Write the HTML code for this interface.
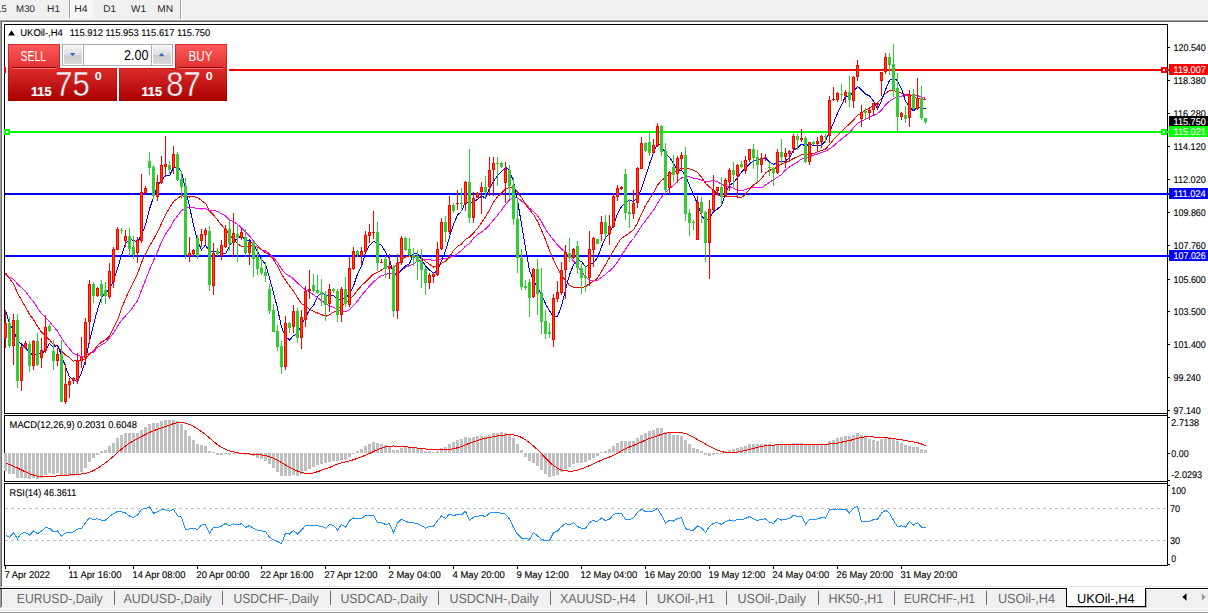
<!DOCTYPE html><html><head><meta charset="utf-8"><title>UKOil-,H4</title>
<style>html,body{margin:0;padding:0;background:#fff;overflow:hidden}body{width:1208px;height:614px;position:relative;font-family:"Liberation Sans",sans-serif}svg{position:absolute;left:0;top:0;display:block}text{font-family:"Liberation Sans",sans-serif}.t{stroke-width:0.12px;stroke-linejoin:round;text-rendering:geometricPrecision}.g{text-rendering:geometricPrecision}</style></head><body>
<svg width="1208" height="614" viewBox="0 0 1208 614">
<defs><linearGradient id="gr1" x1="0" y1="0" x2="0" y2="1"><stop offset="0" stop-color="#ff5a5a"/><stop offset="1" stop-color="#e03030"/></linearGradient><linearGradient id="gr2" x1="0" y1="0" x2="0" y2="1"><stop offset="0" stop-color="#dc2c2c"/><stop offset="1" stop-color="#aa0000"/></linearGradient><linearGradient id="gr2u" gradientUnits="userSpaceOnUse" x1="0" y1="68" x2="0" y2="101"><stop offset="0" stop-color="#dc2c2c"/><stop offset="1" stop-color="#aa0000"/></linearGradient><linearGradient id="gb" x1="0" y1="0" x2="0" y2="1"><stop offset="0" stop-color="#f4f4f4"/><stop offset="0.5" stop-color="#dcdcdc"/><stop offset="0.5" stop-color="#cfcfcf"/><stop offset="1" stop-color="#d8d8d8"/></linearGradient><pattern id="chk" width="2" height="2" patternUnits="userSpaceOnUse"><rect width="2" height="2" fill="#f0f0f0"/><rect width="1" height="1" fill="#fff"/><rect x="1" y="1" width="1" height="1" fill="#fff"/></pattern></defs>
<rect x="0" y="0" width="1208" height="19" fill="#f0f0f0" />
<rect x="0" y="19" width="1208" height="1" fill="#f9f9f9" />
<rect x="0" y="20" width="1208" height="1" fill="#a0a0a0" />
<rect x="1" y="21" width="1208" height="1" fill="#696969" />
<rect x="0" y="20" width="1" height="566" fill="#a0a0a0" />
<rect x="1" y="21" width="1" height="565" fill="#696969" />
<rect x="70" y="0" width="24" height="18" fill="url(#chk)" />
<rect x="69" y="0" width="1" height="18" fill="#a0a0a0" />
<rect x="180" y="0" width="1" height="19" fill="#a0a0a0" />
<rect x="181" y="0" width="1" height="19" fill="#fff" />
<text x="-3.8" y="12" font-size="9.8" fill="#2b2b2b" textLength="10.5" lengthAdjust="spacingAndGlyphs" class="g">15</text>
<text x="16.1" y="12" font-size="9.8" fill="#2b2b2b" textLength="18.8" lengthAdjust="spacingAndGlyphs" class="g">M30</text>
<text x="47.1" y="12" font-size="9.8" fill="#2b2b2b" textLength="13" lengthAdjust="spacingAndGlyphs" class="g">H1</text>
<text x="74.2" y="12" font-size="9.8" fill="#2b2b2b" textLength="13.4" lengthAdjust="spacingAndGlyphs" class="g">H4</text>
<text x="103.2" y="12" font-size="9.8" fill="#2b2b2b" textLength="12.8" lengthAdjust="spacingAndGlyphs" class="g">D1</text>
<text x="131.1" y="12" font-size="9.8" fill="#2b2b2b" textLength="15" lengthAdjust="spacingAndGlyphs" class="g">W1</text>
<text x="157.3" y="12" font-size="9.8" fill="#2b2b2b" textLength="15.8" lengthAdjust="spacingAndGlyphs" class="g">MN</text>
<rect x="4" y="24" width="1164" height="1" fill="#000" />
<rect x="4" y="413" width="1164" height="1" fill="#000" />
<rect x="4" y="24" width="1" height="390" fill="#000" />
<rect x="4" y="415" width="1164" height="1" fill="#000" />
<rect x="4" y="481" width="1164" height="1" fill="#000" />
<rect x="4" y="415" width="1" height="67" fill="#000" />
<rect x="4" y="483" width="1164" height="1" fill="#000" />
<rect x="4" y="565" width="1164" height="1" fill="#000" />
<rect x="4" y="483" width="1" height="83" fill="#000" />
<rect x="1167" y="24" width="1" height="542" fill="#000" />
<rect x="5" y="69" width="1164" height="2" fill="#ff0000" />
<rect x="4" y="67" width="6" height="6" fill="#ff0000" />
<rect x="6" y="69" width="2" height="2" fill="#fff" />
<rect x="1161" y="67" width="6" height="6" fill="#ff0000" />
<rect x="1163" y="69" width="2" height="2" fill="#fff" />
<rect x="5" y="131" width="1164" height="2" fill="#00ff00" />
<rect x="4" y="129" width="6" height="6" fill="#00ff00" />
<rect x="6" y="131" width="2" height="2" fill="#fff" />
<rect x="1161" y="129" width="6" height="6" fill="#00ff00" />
<rect x="1163" y="131" width="2" height="2" fill="#fff" />
<rect x="5" y="193" width="1164" height="2" fill="#0000ff" />
<rect x="5" y="255" width="1164" height="2" fill="#0000ff" />
<g id="chart">
<polyline points="5.5,274.4 9.5,277.4 13.5,279.2 17.5,284.1 21.5,287.7 25.5,291.5 29.5,297.0 33.5,301.7 37.5,308.0 41.5,313.5 45.5,317.7 49.5,321.6 53.5,326.6 57.5,331.0 61.5,338.0 65.5,343.9 69.5,348.9 73.5,353.5 77.5,355.2 81.5,356.4 85.5,356.4 89.5,353.3 93.5,352.1 97.5,347.4 101.5,344.9 105.5,342.5 109.5,337.8 113.5,333.1 117.5,326.3 121.5,320.4 125.5,315.8 129.5,311.7 133.5,306.4 137.5,300.7 141.5,290.2 145.5,280.4 149.5,269.7 153.5,260.6 157.5,251.7 161.5,242.0 165.5,234.1 169.5,228.4 173.5,221.3 177.5,215.9 181.5,210.5 185.5,208.4 189.5,207.5 193.5,207.6 197.5,208.9 201.5,209.0 205.5,208.8 209.5,210.6 213.5,210.5 217.5,211.2 221.5,213.9 225.5,215.9 229.5,219.8 233.5,221.6 237.5,224.4 241.5,227.8 245.5,232.2 249.5,235.8 253.5,241.0 257.5,245.5 261.5,249.8 265.5,250.9 269.5,253.8 273.5,257.9 277.5,262.4 281.5,269.1 285.5,273.7 289.5,275.9 293.5,278.8 297.5,283.0 301.5,286.6 305.5,289.7 309.5,291.9 313.5,294.8 317.5,297.5 321.5,300.7 325.5,303.3 329.5,305.7 333.5,307.3 337.5,309.7 341.5,310.5 345.5,311.9 349.5,309.7 353.5,305.6 357.5,301.1 361.5,295.3 365.5,290.9 369.5,286.0 373.5,282.1 377.5,278.4 381.5,275.6 385.5,274.5 389.5,273.3 393.5,274.4 397.5,272.9 401.5,270.0 405.5,267.2 409.5,265.6 413.5,263.9 417.5,261.2 421.5,260.2 425.5,259.2 429.5,259.5 433.5,260.7 437.5,260.4 441.5,258.9 445.5,258.8 449.5,257.4 453.5,256.4 457.5,253.4 461.5,250.5 465.5,246.1 469.5,243.7 473.5,238.1 477.5,234.6 481.5,232.0 485.5,229.1 489.5,224.9 493.5,220.1 497.5,215.2 501.5,210.1 505.5,204.4 509.5,200.0 513.5,197.2 517.5,197.7 521.5,200.9 525.5,203.7 529.5,208.3 533.5,211.2 537.5,215.8 541.5,221.6 545.5,229.2 549.5,235.0 553.5,240.0 557.5,245.0 561.5,249.1 565.5,252.2 569.5,256.6 573.5,260.9 577.5,266.1 581.5,271.6 585.5,277.0 589.5,280.2 593.5,281.1 597.5,280.4 601.5,277.2 605.5,274.5 609.5,270.9 613.5,267.3 617.5,262.0 621.5,255.2 625.5,249.2 629.5,243.2 633.5,238.5 637.5,232.3 641.5,225.9 645.5,220.9 649.5,215.6 653.5,210.4 657.5,203.2 661.5,197.0 665.5,192.5 669.5,188.6 673.5,185.5 677.5,181.3 681.5,177.9 685.5,176.9 689.5,176.7 693.5,178.1 697.5,178.8 701.5,180.1 705.5,181.5 709.5,181.3 713.5,180.6 717.5,181.6 721.5,184.3 725.5,185.7 729.5,186.6 733.5,188.1 737.5,190.1 741.5,190.9 745.5,189.4 749.5,188.3 753.5,187.4 757.5,187.8 761.5,187.9 765.5,185.1 769.5,182.4 773.5,179.8 777.5,177.3 781.5,174.5 785.5,170.0 789.5,167.1 793.5,164.4 797.5,162.0 801.5,159.1 805.5,158.2 809.5,156.8 813.5,155.3 817.5,154.0 821.5,152.5 825.5,151.3 829.5,148.9 833.5,145.9 837.5,142.3 841.5,139.1 845.5,135.9 849.5,132.5 853.5,127.7 857.5,123.4 861.5,121.2 865.5,119.1 869.5,117.1 873.5,115.5 877.5,113.6 881.5,110.3 885.5,105.0 889.5,101.2 893.5,98.5 897.5,97.2 901.5,96.1 905.5,95.2 909.5,94.9 913.5,95.4 917.5,95.7 921.5,96.9 925.5,98.4" fill="none" stroke="#ff00ff" stroke-width="1" shape-rendering="crispEdges"/>
<polyline points="5.5,272.7 9.5,278.7 13.5,283.6 17.5,293.0 21.5,300.2 25.5,306.9 29.5,314.4 33.5,319.6 37.5,326.3 41.5,332.1 45.5,336.2 49.5,339.7 53.5,344.6 57.5,346.4 61.5,350.9 65.5,355.0 69.5,357.4 73.5,361.2 77.5,359.9 81.5,360.6 85.5,359.2 89.5,353.8 93.5,350.7 97.5,345.6 101.5,342.0 105.5,339.9 109.5,335.9 113.5,328.4 117.5,320.1 121.5,308.7 125.5,298.8 129.5,290.0 133.5,281.8 137.5,273.7 141.5,262.7 145.5,253.7 149.5,246.0 153.5,239.3 157.5,232.2 161.5,223.5 165.5,214.7 169.5,208.0 173.5,201.6 177.5,198.4 181.5,195.4 185.5,196.7 189.5,197.0 193.5,196.7 197.5,197.7 201.5,200.5 205.5,203.3 209.5,211.1 213.5,214.9 217.5,219.7 221.5,225.1 225.5,229.5 229.5,234.4 233.5,239.7 237.5,243.6 241.5,246.6 245.5,246.4 249.5,245.7 253.5,246.2 257.5,247.1 261.5,249.7 265.5,252.8 269.5,254.6 273.5,259.8 277.5,266.0 281.5,274.1 285.5,280.4 289.5,286.0 293.5,291.2 297.5,297.8 301.5,303.6 305.5,306.1 309.5,309.3 313.5,311.4 317.5,313.0 321.5,314.5 325.5,316.4 329.5,314.9 333.5,312.2 337.5,310.1 341.5,304.9 345.5,303.6 349.5,299.6 353.5,295.6 357.5,290.1 361.5,285.7 365.5,281.9 369.5,278.2 373.5,274.2 377.5,272.3 381.5,270.0 385.5,267.6 389.5,266.1 393.5,267.4 397.5,263.9 401.5,260.5 405.5,256.9 409.5,256.0 413.5,256.5 417.5,256.9 421.5,258.2 425.5,261.4 429.5,264.3 433.5,267.1 437.5,266.2 441.5,263.5 445.5,261.0 449.5,256.9 453.5,250.3 457.5,246.2 461.5,244.0 465.5,239.5 469.5,237.0 473.5,233.0 477.5,228.4 481.5,222.9 485.5,216.8 489.5,209.8 493.5,202.4 497.5,196.7 501.5,193.1 505.5,188.9 509.5,187.6 513.5,188.2 517.5,191.9 521.5,197.4 525.5,204.4 529.5,209.7 533.5,214.5 537.5,221.2 541.5,230.2 545.5,239.6 549.5,250.5 553.5,259.6 557.5,268.1 561.5,275.0 565.5,280.5 569.5,285.3 573.5,287.3 577.5,288.0 581.5,287.4 585.5,286.7 589.5,283.5 593.5,281.4 597.5,278.1 601.5,271.4 605.5,264.8 609.5,257.6 613.5,250.8 617.5,243.8 621.5,238.3 625.5,235.7 629.5,232.7 633.5,229.7 637.5,223.0 641.5,214.0 645.5,205.6 649.5,199.1 653.5,192.9 657.5,185.1 661.5,180.4 665.5,177.4 669.5,173.8 673.5,172.4 677.5,170.4 681.5,168.3 685.5,168.3 689.5,168.9 693.5,170.2 697.5,172.5 701.5,177.2 705.5,183.3 709.5,187.0 713.5,190.0 717.5,194.2 721.5,197.1 725.5,196.5 729.5,196.4 733.5,196.4 737.5,196.9 741.5,197.7 745.5,194.1 749.5,189.2 753.5,184.9 757.5,182.4 761.5,178.8 765.5,173.0 769.5,170.3 773.5,169.2 777.5,166.8 781.5,164.1 785.5,162.3 789.5,161.1 793.5,158.4 797.5,156.7 801.5,154.8 805.5,155.0 809.5,154.5 813.5,153.5 817.5,151.9 821.5,150.5 825.5,149.1 829.5,144.6 833.5,139.7 837.5,135.7 841.5,131.6 845.5,127.5 849.5,124.1 853.5,120.2 857.5,115.2 861.5,113.5 865.5,110.2 869.5,108.1 873.5,105.4 877.5,102.8 881.5,98.6 885.5,93.2 889.5,90.9 893.5,90.3 897.5,91.9 901.5,93.1 905.5,94.9 909.5,94.4 913.5,96.6 917.5,98.8 921.5,99.2 925.5,99.8" fill="none" stroke="#ff0000" stroke-width="1" shape-rendering="crispEdges"/>
<polyline points="5.5,310.4 9.5,323.6 13.5,330.4 17.5,341.2 21.5,343.8 25.5,347.9 29.5,351.9 33.5,356.1 37.5,353.0 41.5,353.6 45.5,350.4 49.5,343.4 53.5,347.3 57.5,345.1 61.5,355.4 65.5,366.8 69.5,376.8 73.5,380.2 77.5,381.7 81.5,372.8 85.5,360.4 89.5,341.0 93.5,324.6 97.5,310.0 101.5,297.7 105.5,292.4 109.5,289.7 113.5,280.4 117.5,268.5 121.5,255.6 125.5,243.6 129.5,239.2 133.5,240.4 137.5,242.5 141.5,234.7 145.5,225.2 149.5,209.0 153.5,197.2 157.5,185.7 161.5,180.2 165.5,175.3 169.5,175.7 173.5,167.3 177.5,166.9 181.5,171.4 185.5,189.6 189.5,206.3 193.5,225.4 197.5,240.6 201.5,249.9 205.5,245.0 209.5,251.4 213.5,252.0 217.5,251.7 221.5,254.0 225.5,253.9 229.5,245.7 233.5,241.7 237.5,238.4 241.5,235.7 245.5,240.4 249.5,239.9 253.5,245.1 257.5,251.2 261.5,259.4 265.5,264.1 269.5,278.1 273.5,292.8 277.5,308.3 281.5,327.2 285.5,336.6 289.5,340.0 293.5,335.7 297.5,334.0 301.5,324.1 305.5,317.6 309.5,309.7 313.5,305.7 317.5,296.6 321.5,292.2 325.5,295.1 329.5,295.1 333.5,295.2 337.5,299.8 341.5,298.5 345.5,298.2 349.5,294.1 353.5,286.0 357.5,274.0 361.5,266.4 365.5,252.5 369.5,245.3 373.5,241.5 377.5,243.0 381.5,245.2 385.5,252.1 389.5,258.9 393.5,274.8 397.5,274.8 401.5,270.0 405.5,266.0 409.5,263.9 413.5,253.2 417.5,253.0 421.5,259.4 425.5,266.1 429.5,270.0 433.5,273.3 437.5,270.7 441.5,261.2 445.5,250.9 449.5,237.0 453.5,224.3 457.5,215.0 461.5,211.5 465.5,201.5 469.5,204.1 473.5,201.5 477.5,199.5 481.5,196.1 485.5,198.0 489.5,188.3 493.5,181.4 497.5,175.6 501.5,171.7 505.5,167.3 509.5,170.4 513.5,181.6 517.5,200.5 521.5,224.3 525.5,248.0 529.5,270.4 533.5,280.3 537.5,287.5 541.5,294.5 545.5,303.7 549.5,310.9 553.5,316.8 557.5,316.4 561.5,306.1 565.5,289.8 569.5,274.8 573.5,264.8 577.5,260.0 581.5,261.5 585.5,266.8 589.5,264.9 593.5,262.7 597.5,257.7 601.5,246.6 605.5,237.8 609.5,233.2 613.5,224.8 617.5,213.7 621.5,206.7 625.5,202.5 629.5,200.1 633.5,201.6 637.5,197.5 641.5,188.7 645.5,176.3 649.5,164.1 653.5,152.4 657.5,143.9 661.5,145.8 665.5,153.4 669.5,157.2 673.5,163.4 677.5,169.8 681.5,170.4 685.5,175.1 689.5,185.4 693.5,194.9 697.5,203.8 701.5,215.4 705.5,221.2 709.5,218.5 713.5,211.8 717.5,208.9 721.5,205.7 725.5,193.2 729.5,185.4 733.5,182.4 737.5,178.0 741.5,172.0 745.5,168.0 749.5,163.9 753.5,160.5 757.5,160.3 761.5,158.6 765.5,157.9 769.5,161.8 773.5,164.6 777.5,162.0 781.5,161.7 785.5,161.0 789.5,157.6 793.5,150.2 797.5,147.8 801.5,144.1 805.5,145.9 809.5,144.1 813.5,145.8 817.5,146.0 821.5,145.6 825.5,140.5 829.5,132.0 833.5,123.0 837.5,113.3 841.5,105.1 845.5,96.1 849.5,96.2 853.5,91.9 857.5,86.4 861.5,89.8 865.5,94.0 869.5,95.9 873.5,101.2 877.5,108.7 881.5,100.7 885.5,89.6 889.5,80.5 893.5,77.8 897.5,80.6 901.5,88.7 905.5,101.1 909.5,106.9 913.5,110.8 917.5,107.1 921.5,108.2 925.5,108.8" fill="none" stroke="#0000ff" stroke-width="1" shape-rendering="crispEdges"/>
<rect x="5" y="310" width="1" height="38" fill="#ff0000"/>
<rect x="4" y="323" width="3" height="15" fill="#ff0000"/>
<rect x="5" y="324" width="1" height="13" fill="#ff4a00"/>
<rect x="9" y="317" width="1" height="31" fill="#32cd32"/>
<rect x="8" y="323" width="3" height="23" fill="#32cd32"/>
<rect x="13" y="314" width="1" height="51" fill="#ff0000"/>
<rect x="12" y="320" width="3" height="26" fill="#ff0000"/>
<rect x="13" y="321" width="1" height="24" fill="#ff4a00"/>
<rect x="17" y="314" width="1" height="74" fill="#32cd32"/>
<rect x="16" y="320" width="3" height="61" fill="#32cd32"/>
<rect x="21" y="345" width="1" height="46" fill="#ff0000"/>
<rect x="20" y="347" width="3" height="34" fill="#ff0000"/>
<rect x="21" y="348" width="1" height="32" fill="#ff4a00"/>
<rect x="25" y="341" width="1" height="8" fill="#ff0000"/>
<rect x="24" y="343" width="3" height="5" fill="#ff0000"/>
<rect x="25" y="344" width="1" height="3" fill="#ff4a00"/>
<rect x="29" y="341" width="1" height="31" fill="#32cd32"/>
<rect x="28" y="344" width="3" height="22" fill="#32cd32"/>
<rect x="33" y="340" width="1" height="30" fill="#ff0000"/>
<rect x="32" y="341" width="3" height="25" fill="#ff0000"/>
<rect x="33" y="342" width="1" height="23" fill="#ff4a00"/>
<rect x="37" y="333" width="1" height="33" fill="#32cd32"/>
<rect x="36" y="341" width="3" height="24" fill="#32cd32"/>
<rect x="41" y="338" width="1" height="30" fill="#ff0000"/>
<rect x="40" y="350" width="3" height="8" fill="#ff0000"/>
<rect x="41" y="351" width="1" height="6" fill="#ff4a00"/>
<rect x="45" y="315" width="1" height="38" fill="#ff0000"/>
<rect x="44" y="327" width="3" height="24" fill="#ff0000"/>
<rect x="45" y="328" width="1" height="22" fill="#ff4a00"/>
<rect x="49" y="324" width="1" height="8" fill="#32cd32"/>
<rect x="48" y="326" width="3" height="5" fill="#32cd32"/>
<rect x="53" y="340" width="1" height="30" fill="#32cd32"/>
<rect x="52" y="351" width="3" height="10" fill="#32cd32"/>
<rect x="57" y="348" width="1" height="18" fill="#ff0000"/>
<rect x="56" y="354" width="3" height="7" fill="#ff0000"/>
<rect x="57" y="355" width="1" height="5" fill="#ff4a00"/>
<rect x="61" y="340" width="1" height="62" fill="#32cd32"/>
<rect x="60" y="354" width="3" height="48" fill="#32cd32"/>
<rect x="65" y="364" width="1" height="40" fill="#ff0000"/>
<rect x="64" y="384" width="3" height="18" fill="#ff0000"/>
<rect x="65" y="385" width="1" height="16" fill="#ff4a00"/>
<rect x="69" y="378" width="1" height="20" fill="#ff0000"/>
<rect x="68" y="381" width="3" height="4" fill="#ff0000"/>
<rect x="69" y="382" width="1" height="2" fill="#ff4a00"/>
<rect x="73" y="377" width="1" height="7" fill="#ff0000"/>
<rect x="72" y="378" width="3" height="3" fill="#ff0000"/>
<rect x="73" y="379" width="1" height="1" fill="#ff4a00"/>
<rect x="77" y="353" width="1" height="31" fill="#ff0000"/>
<rect x="76" y="361" width="3" height="19" fill="#ff0000"/>
<rect x="77" y="362" width="1" height="17" fill="#ff4a00"/>
<rect x="81" y="337" width="1" height="31" fill="#ff0000"/>
<rect x="80" y="357" width="3" height="4" fill="#ff0000"/>
<rect x="81" y="358" width="1" height="2" fill="#ff4a00"/>
<rect x="85" y="318" width="1" height="47" fill="#ff0000"/>
<rect x="84" y="322" width="3" height="36" fill="#ff0000"/>
<rect x="85" y="323" width="1" height="34" fill="#ff4a00"/>
<rect x="89" y="280" width="1" height="64" fill="#ff0000"/>
<rect x="88" y="284" width="3" height="38" fill="#ff0000"/>
<rect x="89" y="285" width="1" height="36" fill="#ff4a00"/>
<rect x="93" y="282" width="1" height="21" fill="#32cd32"/>
<rect x="92" y="284" width="3" height="12" fill="#32cd32"/>
<rect x="97" y="287" width="1" height="10" fill="#ff0000"/>
<rect x="96" y="288" width="3" height="8" fill="#ff0000"/>
<rect x="97" y="289" width="1" height="6" fill="#ff4a00"/>
<rect x="101" y="280" width="1" height="23" fill="#32cd32"/>
<rect x="100" y="284" width="3" height="12" fill="#32cd32"/>
<rect x="105" y="282" width="1" height="22" fill="#32cd32"/>
<rect x="104" y="290" width="3" height="6" fill="#32cd32"/>
<rect x="109" y="263" width="1" height="36" fill="#ff0000"/>
<rect x="108" y="271" width="3" height="26" fill="#ff0000"/>
<rect x="109" y="272" width="1" height="24" fill="#ff4a00"/>
<rect x="113" y="247" width="1" height="41" fill="#ff0000"/>
<rect x="112" y="249" width="3" height="33" fill="#ff0000"/>
<rect x="113" y="250" width="1" height="31" fill="#ff4a00"/>
<rect x="117" y="227" width="1" height="23" fill="#ff0000"/>
<rect x="116" y="229" width="3" height="21" fill="#ff0000"/>
<rect x="117" y="230" width="1" height="19" fill="#ff4a00"/>
<rect x="121" y="228" width="1" height="6" fill="#32cd32"/>
<rect x="120" y="230" width="3" height="1" fill="#32cd32"/>
<rect x="125" y="230" width="1" height="17" fill="#ff0000"/>
<rect x="124" y="236" width="3" height="5" fill="#ff0000"/>
<rect x="125" y="237" width="1" height="3" fill="#ff4a00"/>
<rect x="129" y="228" width="1" height="28" fill="#32cd32"/>
<rect x="128" y="236" width="3" height="13" fill="#32cd32"/>
<rect x="133" y="236" width="1" height="23" fill="#32cd32"/>
<rect x="132" y="247" width="3" height="8" fill="#32cd32"/>
<rect x="137" y="237" width="1" height="26" fill="#ff0000"/>
<rect x="136" y="240" width="3" height="13" fill="#ff0000"/>
<rect x="137" y="241" width="1" height="11" fill="#ff4a00"/>
<rect x="141" y="174" width="1" height="69" fill="#ff0000"/>
<rect x="140" y="192" width="3" height="49" fill="#ff0000"/>
<rect x="141" y="193" width="1" height="47" fill="#ff4a00"/>
<rect x="145" y="186" width="1" height="8" fill="#ff0000"/>
<rect x="144" y="188" width="3" height="5" fill="#ff0000"/>
<rect x="145" y="189" width="1" height="3" fill="#ff4a00"/>
<rect x="149" y="152" width="1" height="23" fill="#32cd32"/>
<rect x="148" y="161" width="3" height="7" fill="#32cd32"/>
<rect x="153" y="165" width="1" height="34" fill="#32cd32"/>
<rect x="152" y="167" width="3" height="29" fill="#32cd32"/>
<rect x="157" y="175" width="1" height="26" fill="#ff0000"/>
<rect x="156" y="182" width="3" height="15" fill="#ff0000"/>
<rect x="157" y="183" width="1" height="13" fill="#ff4a00"/>
<rect x="161" y="156" width="1" height="28" fill="#ff0000"/>
<rect x="160" y="165" width="3" height="18" fill="#ff0000"/>
<rect x="161" y="166" width="1" height="16" fill="#ff4a00"/>
<rect x="165" y="136" width="1" height="41" fill="#ff0000"/>
<rect x="164" y="164" width="3" height="3" fill="#ff0000"/>
<rect x="165" y="165" width="1" height="1" fill="#ff4a00"/>
<rect x="169" y="161" width="1" height="13" fill="#32cd32"/>
<rect x="168" y="165" width="3" height="5" fill="#32cd32"/>
<rect x="173" y="146" width="1" height="28" fill="#ff0000"/>
<rect x="172" y="154" width="3" height="14" fill="#ff0000"/>
<rect x="173" y="155" width="1" height="12" fill="#ff4a00"/>
<rect x="177" y="152" width="1" height="29" fill="#32cd32"/>
<rect x="176" y="154" width="3" height="26" fill="#32cd32"/>
<rect x="181" y="171" width="1" height="28" fill="#32cd32"/>
<rect x="180" y="179" width="3" height="8" fill="#32cd32"/>
<rect x="185" y="178" width="1" height="81" fill="#32cd32"/>
<rect x="184" y="186" width="3" height="69" fill="#32cd32"/>
<rect x="189" y="237" width="1" height="25" fill="#ff0000"/>
<rect x="188" y="253" width="3" height="3" fill="#ff0000"/>
<rect x="189" y="254" width="1" height="1" fill="#ff4a00"/>
<rect x="193" y="249" width="1" height="8" fill="#ff0000"/>
<rect x="192" y="250" width="3" height="4" fill="#ff0000"/>
<rect x="193" y="251" width="1" height="2" fill="#ff4a00"/>
<rect x="197" y="235" width="1" height="24" fill="#32cd32"/>
<rect x="196" y="238" width="3" height="18" fill="#32cd32"/>
<rect x="201" y="229" width="1" height="18" fill="#ff0000"/>
<rect x="200" y="234" width="3" height="7" fill="#ff0000"/>
<rect x="201" y="235" width="1" height="5" fill="#ff4a00"/>
<rect x="205" y="228" width="1" height="17" fill="#ff0000"/>
<rect x="204" y="230" width="3" height="5" fill="#ff0000"/>
<rect x="205" y="231" width="1" height="3" fill="#ff4a00"/>
<rect x="209" y="226" width="1" height="65" fill="#32cd32"/>
<rect x="208" y="231" width="3" height="54" fill="#32cd32"/>
<rect x="213" y="243" width="1" height="52" fill="#ff0000"/>
<rect x="212" y="253" width="3" height="33" fill="#ff0000"/>
<rect x="213" y="254" width="1" height="31" fill="#ff4a00"/>
<rect x="217" y="248" width="1" height="8" fill="#32cd32"/>
<rect x="216" y="251" width="3" height="3" fill="#32cd32"/>
<rect x="221" y="240" width="1" height="20" fill="#ff0000"/>
<rect x="220" y="245" width="3" height="11" fill="#ff0000"/>
<rect x="221" y="246" width="1" height="9" fill="#ff4a00"/>
<rect x="225" y="225" width="1" height="23" fill="#ff0000"/>
<rect x="224" y="229" width="3" height="18" fill="#ff0000"/>
<rect x="225" y="230" width="1" height="16" fill="#ff4a00"/>
<rect x="229" y="219" width="1" height="32" fill="#32cd32"/>
<rect x="228" y="229" width="3" height="15" fill="#32cd32"/>
<rect x="233" y="213" width="1" height="44" fill="#ff0000"/>
<rect x="232" y="233" width="3" height="10" fill="#ff0000"/>
<rect x="233" y="234" width="1" height="8" fill="#ff4a00"/>
<rect x="237" y="226" width="1" height="36" fill="#32cd32"/>
<rect x="236" y="234" width="3" height="4" fill="#32cd32"/>
<rect x="241" y="229" width="1" height="11" fill="#ff0000"/>
<rect x="240" y="232" width="3" height="6" fill="#ff0000"/>
<rect x="241" y="233" width="1" height="4" fill="#ff4a00"/>
<rect x="245" y="229" width="1" height="28" fill="#32cd32"/>
<rect x="244" y="237" width="3" height="16" fill="#32cd32"/>
<rect x="249" y="241" width="1" height="24" fill="#ff0000"/>
<rect x="248" y="242" width="3" height="11" fill="#ff0000"/>
<rect x="249" y="243" width="1" height="9" fill="#ff4a00"/>
<rect x="253" y="241" width="1" height="36" fill="#32cd32"/>
<rect x="252" y="242" width="3" height="17" fill="#32cd32"/>
<rect x="257" y="248" width="1" height="27" fill="#32cd32"/>
<rect x="256" y="257" width="3" height="12" fill="#32cd32"/>
<rect x="261" y="257" width="1" height="18" fill="#32cd32"/>
<rect x="260" y="268" width="3" height="5" fill="#32cd32"/>
<rect x="265" y="262" width="1" height="20" fill="#32cd32"/>
<rect x="264" y="272" width="3" height="4" fill="#32cd32"/>
<rect x="269" y="284" width="1" height="30" fill="#32cd32"/>
<rect x="268" y="289" width="3" height="22" fill="#32cd32"/>
<rect x="273" y="304" width="1" height="28" fill="#32cd32"/>
<rect x="272" y="310" width="3" height="22" fill="#32cd32"/>
<rect x="277" y="325" width="1" height="26" fill="#32cd32"/>
<rect x="276" y="331" width="3" height="16" fill="#32cd32"/>
<rect x="281" y="341" width="1" height="33" fill="#32cd32"/>
<rect x="280" y="346" width="3" height="21" fill="#32cd32"/>
<rect x="285" y="316" width="1" height="54" fill="#ff0000"/>
<rect x="284" y="323" width="3" height="44" fill="#ff0000"/>
<rect x="285" y="324" width="1" height="42" fill="#ff4a00"/>
<rect x="289" y="322" width="1" height="11" fill="#32cd32"/>
<rect x="288" y="323" width="3" height="5" fill="#32cd32"/>
<rect x="293" y="305" width="1" height="28" fill="#ff0000"/>
<rect x="292" y="311" width="3" height="16" fill="#ff0000"/>
<rect x="293" y="312" width="1" height="14" fill="#ff4a00"/>
<rect x="297" y="308" width="1" height="35" fill="#32cd32"/>
<rect x="296" y="311" width="3" height="27" fill="#32cd32"/>
<rect x="301" y="310" width="1" height="39" fill="#ff0000"/>
<rect x="300" y="317" width="3" height="21" fill="#ff0000"/>
<rect x="301" y="318" width="1" height="19" fill="#ff4a00"/>
<rect x="305" y="286" width="1" height="41" fill="#ff0000"/>
<rect x="304" y="291" width="3" height="29" fill="#ff0000"/>
<rect x="305" y="292" width="1" height="27" fill="#ff4a00"/>
<rect x="309" y="270" width="1" height="29" fill="#ff0000"/>
<rect x="308" y="289" width="3" height="2" fill="#ff0000"/>
<rect x="313" y="274" width="1" height="18" fill="#32cd32"/>
<rect x="312" y="285" width="3" height="6" fill="#32cd32"/>
<rect x="317" y="275" width="1" height="19" fill="#32cd32"/>
<rect x="316" y="290" width="3" height="3" fill="#32cd32"/>
<rect x="321" y="279" width="1" height="27" fill="#32cd32"/>
<rect x="320" y="292" width="3" height="3" fill="#32cd32"/>
<rect x="325" y="291" width="1" height="30" fill="#32cd32"/>
<rect x="324" y="295" width="3" height="10" fill="#32cd32"/>
<rect x="329" y="284" width="1" height="28" fill="#ff0000"/>
<rect x="328" y="289" width="3" height="15" fill="#ff0000"/>
<rect x="329" y="290" width="1" height="13" fill="#ff4a00"/>
<rect x="333" y="288" width="1" height="5" fill="#32cd32"/>
<rect x="332" y="289" width="3" height="2" fill="#32cd32"/>
<rect x="337" y="289" width="1" height="33" fill="#32cd32"/>
<rect x="336" y="291" width="3" height="24" fill="#32cd32"/>
<rect x="341" y="287" width="1" height="35" fill="#ff0000"/>
<rect x="340" y="289" width="3" height="26" fill="#ff0000"/>
<rect x="341" y="290" width="1" height="24" fill="#ff4a00"/>
<rect x="345" y="277" width="1" height="30" fill="#32cd32"/>
<rect x="344" y="289" width="3" height="15" fill="#32cd32"/>
<rect x="349" y="257" width="1" height="50" fill="#ff0000"/>
<rect x="348" y="268" width="3" height="37" fill="#ff0000"/>
<rect x="349" y="269" width="1" height="35" fill="#ff4a00"/>
<rect x="353" y="247" width="1" height="23" fill="#ff0000"/>
<rect x="352" y="251" width="3" height="18" fill="#ff0000"/>
<rect x="353" y="252" width="1" height="16" fill="#ff4a00"/>
<rect x="357" y="250" width="1" height="7" fill="#32cd32"/>
<rect x="356" y="251" width="3" height="4" fill="#32cd32"/>
<rect x="361" y="247" width="1" height="18" fill="#ff0000"/>
<rect x="360" y="251" width="3" height="5" fill="#ff0000"/>
<rect x="361" y="252" width="1" height="3" fill="#ff4a00"/>
<rect x="365" y="231" width="1" height="22" fill="#ff0000"/>
<rect x="364" y="235" width="3" height="17" fill="#ff0000"/>
<rect x="365" y="236" width="1" height="15" fill="#ff4a00"/>
<rect x="369" y="224" width="1" height="19" fill="#ff0000"/>
<rect x="368" y="232" width="3" height="4" fill="#ff0000"/>
<rect x="369" y="233" width="1" height="2" fill="#ff4a00"/>
<rect x="373" y="211" width="1" height="28" fill="#ff0000"/>
<rect x="372" y="232" width="3" height="1" fill="#ff0000"/>
<rect x="377" y="222" width="1" height="49" fill="#32cd32"/>
<rect x="376" y="232" width="3" height="31" fill="#32cd32"/>
<rect x="381" y="259" width="1" height="4" fill="#ff0000"/>
<rect x="380" y="262" width="3" height="1" fill="#ff0000"/>
<rect x="385" y="256" width="1" height="22" fill="#32cd32"/>
<rect x="384" y="259" width="3" height="10" fill="#32cd32"/>
<rect x="389" y="254" width="1" height="25" fill="#ff0000"/>
<rect x="388" y="266" width="3" height="3" fill="#ff0000"/>
<rect x="389" y="267" width="1" height="1" fill="#ff4a00"/>
<rect x="393" y="265" width="1" height="52" fill="#32cd32"/>
<rect x="392" y="267" width="3" height="44" fill="#32cd32"/>
<rect x="397" y="254" width="1" height="65" fill="#ff0000"/>
<rect x="396" y="263" width="3" height="48" fill="#ff0000"/>
<rect x="397" y="264" width="1" height="46" fill="#ff4a00"/>
<rect x="401" y="236" width="1" height="29" fill="#ff0000"/>
<rect x="400" y="238" width="3" height="25" fill="#ff0000"/>
<rect x="401" y="239" width="1" height="23" fill="#ff4a00"/>
<rect x="405" y="237" width="1" height="14" fill="#32cd32"/>
<rect x="404" y="238" width="3" height="12" fill="#32cd32"/>
<rect x="409" y="238" width="1" height="19" fill="#32cd32"/>
<rect x="408" y="249" width="3" height="6" fill="#32cd32"/>
<rect x="413" y="248" width="1" height="18" fill="#32cd32"/>
<rect x="412" y="255" width="3" height="3" fill="#32cd32"/>
<rect x="417" y="250" width="1" height="30" fill="#32cd32"/>
<rect x="416" y="256" width="3" height="6" fill="#32cd32"/>
<rect x="421" y="249" width="1" height="39" fill="#32cd32"/>
<rect x="420" y="261" width="3" height="9" fill="#32cd32"/>
<rect x="425" y="267" width="1" height="28" fill="#32cd32"/>
<rect x="424" y="269" width="3" height="14" fill="#32cd32"/>
<rect x="429" y="273" width="1" height="16" fill="#ff0000"/>
<rect x="428" y="275" width="3" height="8" fill="#ff0000"/>
<rect x="429" y="276" width="1" height="6" fill="#ff4a00"/>
<rect x="433" y="272" width="1" height="11" fill="#ff0000"/>
<rect x="432" y="274" width="3" height="3" fill="#ff0000"/>
<rect x="433" y="275" width="1" height="1" fill="#ff4a00"/>
<rect x="437" y="242" width="1" height="34" fill="#ff0000"/>
<rect x="436" y="249" width="3" height="26" fill="#ff0000"/>
<rect x="437" y="250" width="1" height="24" fill="#ff4a00"/>
<rect x="441" y="218" width="1" height="32" fill="#ff0000"/>
<rect x="440" y="222" width="3" height="27" fill="#ff0000"/>
<rect x="441" y="223" width="1" height="25" fill="#ff4a00"/>
<rect x="445" y="216" width="1" height="26" fill="#32cd32"/>
<rect x="444" y="222" width="3" height="10" fill="#32cd32"/>
<rect x="449" y="196" width="1" height="38" fill="#ff0000"/>
<rect x="448" y="205" width="3" height="27" fill="#ff0000"/>
<rect x="449" y="206" width="1" height="25" fill="#ff4a00"/>
<rect x="453" y="203" width="1" height="10" fill="#32cd32"/>
<rect x="452" y="205" width="3" height="6" fill="#32cd32"/>
<rect x="457" y="190" width="1" height="20" fill="#ff0000"/>
<rect x="456" y="203" width="3" height="1" fill="#ff0000"/>
<rect x="461" y="188" width="1" height="21" fill="#32cd32"/>
<rect x="460" y="203" width="3" height="1" fill="#32cd32"/>
<rect x="465" y="181" width="1" height="30" fill="#ff0000"/>
<rect x="464" y="182" width="3" height="22" fill="#ff0000"/>
<rect x="465" y="183" width="1" height="20" fill="#ff4a00"/>
<rect x="469" y="149" width="1" height="74" fill="#32cd32"/>
<rect x="468" y="182" width="3" height="36" fill="#32cd32"/>
<rect x="473" y="192" width="1" height="31" fill="#ff0000"/>
<rect x="472" y="198" width="3" height="20" fill="#ff0000"/>
<rect x="473" y="199" width="1" height="18" fill="#ff4a00"/>
<rect x="477" y="192" width="1" height="6" fill="#ff0000"/>
<rect x="476" y="193" width="3" height="5" fill="#ff0000"/>
<rect x="477" y="194" width="1" height="3" fill="#ff4a00"/>
<rect x="481" y="182" width="1" height="32" fill="#ff0000"/>
<rect x="480" y="187" width="3" height="5" fill="#ff0000"/>
<rect x="481" y="188" width="1" height="3" fill="#ff4a00"/>
<rect x="485" y="176" width="1" height="22" fill="#32cd32"/>
<rect x="484" y="187" width="3" height="5" fill="#32cd32"/>
<rect x="489" y="157" width="1" height="39" fill="#ff0000"/>
<rect x="488" y="170" width="3" height="17" fill="#ff0000"/>
<rect x="489" y="171" width="1" height="15" fill="#ff4a00"/>
<rect x="493" y="157" width="1" height="39" fill="#ff0000"/>
<rect x="492" y="163" width="3" height="7" fill="#ff0000"/>
<rect x="493" y="164" width="1" height="5" fill="#ff4a00"/>
<rect x="497" y="157" width="1" height="29" fill="#32cd32"/>
<rect x="496" y="163" width="3" height="1" fill="#32cd32"/>
<rect x="501" y="162" width="1" height="6" fill="#32cd32"/>
<rect x="500" y="163" width="3" height="4" fill="#32cd32"/>
<rect x="505" y="162" width="1" height="41" fill="#ff0000"/>
<rect x="504" y="169" width="3" height="14" fill="#ff0000"/>
<rect x="505" y="170" width="1" height="12" fill="#ff4a00"/>
<rect x="509" y="165" width="1" height="34" fill="#32cd32"/>
<rect x="508" y="170" width="3" height="16" fill="#32cd32"/>
<rect x="513" y="178" width="1" height="47" fill="#32cd32"/>
<rect x="512" y="185" width="3" height="34" fill="#32cd32"/>
<rect x="517" y="197" width="1" height="76" fill="#32cd32"/>
<rect x="516" y="219" width="3" height="39" fill="#32cd32"/>
<rect x="521" y="249" width="1" height="41" fill="#32cd32"/>
<rect x="520" y="258" width="3" height="29" fill="#32cd32"/>
<rect x="525" y="280" width="1" height="10" fill="#32cd32"/>
<rect x="524" y="286" width="3" height="2" fill="#32cd32"/>
<rect x="529" y="279" width="1" height="38" fill="#32cd32"/>
<rect x="528" y="282" width="3" height="16" fill="#32cd32"/>
<rect x="533" y="268" width="1" height="30" fill="#ff0000"/>
<rect x="532" y="269" width="3" height="28" fill="#ff0000"/>
<rect x="533" y="270" width="1" height="26" fill="#ff4a00"/>
<rect x="537" y="259" width="1" height="56" fill="#32cd32"/>
<rect x="536" y="269" width="3" height="25" fill="#32cd32"/>
<rect x="541" y="268" width="1" height="66" fill="#32cd32"/>
<rect x="540" y="293" width="3" height="29" fill="#32cd32"/>
<rect x="545" y="310" width="1" height="29" fill="#32cd32"/>
<rect x="544" y="321" width="3" height="13" fill="#32cd32"/>
<rect x="549" y="323" width="1" height="15" fill="#32cd32"/>
<rect x="548" y="332" width="3" height="2" fill="#32cd32"/>
<rect x="553" y="294" width="1" height="53" fill="#ff0000"/>
<rect x="552" y="298" width="3" height="42" fill="#ff0000"/>
<rect x="553" y="299" width="1" height="40" fill="#ff4a00"/>
<rect x="557" y="281" width="1" height="21" fill="#ff0000"/>
<rect x="556" y="292" width="3" height="7" fill="#ff0000"/>
<rect x="557" y="293" width="1" height="5" fill="#ff4a00"/>
<rect x="561" y="262" width="1" height="33" fill="#ff0000"/>
<rect x="560" y="270" width="3" height="23" fill="#ff0000"/>
<rect x="561" y="271" width="1" height="21" fill="#ff4a00"/>
<rect x="565" y="245" width="1" height="54" fill="#ff0000"/>
<rect x="564" y="252" width="3" height="18" fill="#ff0000"/>
<rect x="565" y="253" width="1" height="16" fill="#ff4a00"/>
<rect x="569" y="238" width="1" height="24" fill="#32cd32"/>
<rect x="568" y="253" width="3" height="5" fill="#32cd32"/>
<rect x="573" y="248" width="1" height="11" fill="#ff0000"/>
<rect x="572" y="249" width="3" height="9" fill="#ff0000"/>
<rect x="573" y="250" width="1" height="7" fill="#ff4a00"/>
<rect x="577" y="241" width="1" height="33" fill="#32cd32"/>
<rect x="576" y="246" width="3" height="22" fill="#32cd32"/>
<rect x="581" y="264" width="1" height="30" fill="#32cd32"/>
<rect x="580" y="268" width="3" height="10" fill="#32cd32"/>
<rect x="585" y="266" width="1" height="26" fill="#32cd32"/>
<rect x="584" y="276" width="3" height="2" fill="#32cd32"/>
<rect x="589" y="231" width="1" height="55" fill="#ff0000"/>
<rect x="588" y="249" width="3" height="29" fill="#ff0000"/>
<rect x="589" y="250" width="1" height="27" fill="#ff4a00"/>
<rect x="593" y="237" width="1" height="30" fill="#ff0000"/>
<rect x="592" y="238" width="3" height="12" fill="#ff0000"/>
<rect x="593" y="239" width="1" height="10" fill="#ff4a00"/>
<rect x="597" y="239" width="1" height="5" fill="#32cd32"/>
<rect x="596" y="239" width="3" height="5" fill="#32cd32"/>
<rect x="601" y="216" width="1" height="25" fill="#ff0000"/>
<rect x="600" y="222" width="3" height="12" fill="#ff0000"/>
<rect x="601" y="223" width="1" height="10" fill="#ff4a00"/>
<rect x="605" y="215" width="1" height="23" fill="#32cd32"/>
<rect x="604" y="222" width="3" height="12" fill="#32cd32"/>
<rect x="609" y="215" width="1" height="30" fill="#ff0000"/>
<rect x="608" y="226" width="3" height="8" fill="#ff0000"/>
<rect x="609" y="227" width="1" height="6" fill="#ff4a00"/>
<rect x="613" y="193" width="1" height="35" fill="#ff0000"/>
<rect x="612" y="196" width="3" height="31" fill="#ff0000"/>
<rect x="613" y="197" width="1" height="29" fill="#ff4a00"/>
<rect x="617" y="185" width="1" height="16" fill="#ff0000"/>
<rect x="616" y="188" width="3" height="9" fill="#ff0000"/>
<rect x="617" y="189" width="1" height="7" fill="#ff4a00"/>
<rect x="621" y="186" width="1" height="4" fill="#ff0000"/>
<rect x="620" y="187" width="3" height="2" fill="#ff0000"/>
<rect x="625" y="169" width="1" height="51" fill="#32cd32"/>
<rect x="624" y="174" width="3" height="39" fill="#32cd32"/>
<rect x="629" y="199" width="1" height="29" fill="#32cd32"/>
<rect x="628" y="212" width="3" height="2" fill="#32cd32"/>
<rect x="633" y="190" width="1" height="29" fill="#ff0000"/>
<rect x="632" y="203" width="3" height="11" fill="#ff0000"/>
<rect x="633" y="204" width="1" height="9" fill="#ff4a00"/>
<rect x="637" y="167" width="1" height="41" fill="#ff0000"/>
<rect x="636" y="168" width="3" height="35" fill="#ff0000"/>
<rect x="637" y="169" width="1" height="33" fill="#ff4a00"/>
<rect x="641" y="137" width="1" height="32" fill="#ff0000"/>
<rect x="640" y="143" width="3" height="26" fill="#ff0000"/>
<rect x="641" y="144" width="1" height="24" fill="#ff4a00"/>
<rect x="645" y="142" width="1" height="10" fill="#32cd32"/>
<rect x="644" y="143" width="3" height="8" fill="#32cd32"/>
<rect x="649" y="132" width="1" height="24" fill="#32cd32"/>
<rect x="648" y="142" width="3" height="11" fill="#32cd32"/>
<rect x="653" y="139" width="1" height="15" fill="#ff0000"/>
<rect x="652" y="145" width="3" height="8" fill="#ff0000"/>
<rect x="653" y="146" width="1" height="6" fill="#ff4a00"/>
<rect x="657" y="123" width="1" height="24" fill="#ff0000"/>
<rect x="656" y="126" width="3" height="20" fill="#ff0000"/>
<rect x="657" y="127" width="1" height="18" fill="#ff4a00"/>
<rect x="661" y="125" width="1" height="31" fill="#32cd32"/>
<rect x="660" y="126" width="3" height="26" fill="#32cd32"/>
<rect x="665" y="143" width="1" height="51" fill="#32cd32"/>
<rect x="664" y="151" width="3" height="39" fill="#32cd32"/>
<rect x="669" y="171" width="1" height="23" fill="#ff0000"/>
<rect x="668" y="172" width="3" height="16" fill="#ff0000"/>
<rect x="669" y="173" width="1" height="14" fill="#ff4a00"/>
<rect x="673" y="155" width="1" height="27" fill="#32cd32"/>
<rect x="672" y="167" width="3" height="8" fill="#32cd32"/>
<rect x="677" y="156" width="1" height="27" fill="#ff0000"/>
<rect x="676" y="158" width="3" height="16" fill="#ff0000"/>
<rect x="677" y="159" width="1" height="14" fill="#ff4a00"/>
<rect x="681" y="152" width="1" height="18" fill="#ff0000"/>
<rect x="680" y="155" width="3" height="4" fill="#ff0000"/>
<rect x="681" y="156" width="1" height="2" fill="#ff4a00"/>
<rect x="685" y="147" width="1" height="74" fill="#32cd32"/>
<rect x="684" y="155" width="3" height="59" fill="#32cd32"/>
<rect x="689" y="209" width="1" height="27" fill="#32cd32"/>
<rect x="688" y="213" width="3" height="10" fill="#32cd32"/>
<rect x="693" y="220" width="1" height="10" fill="#32cd32"/>
<rect x="692" y="222" width="3" height="1" fill="#32cd32"/>
<rect x="697" y="196" width="1" height="44" fill="#ff0000"/>
<rect x="696" y="202" width="3" height="38" fill="#ff0000"/>
<rect x="697" y="203" width="1" height="36" fill="#ff4a00"/>
<rect x="701" y="197" width="1" height="26" fill="#32cd32"/>
<rect x="700" y="202" width="3" height="11" fill="#32cd32"/>
<rect x="705" y="211" width="1" height="51" fill="#32cd32"/>
<rect x="704" y="212" width="3" height="31" fill="#32cd32"/>
<rect x="709" y="200" width="1" height="79" fill="#ff0000"/>
<rect x="708" y="209" width="3" height="34" fill="#ff0000"/>
<rect x="709" y="210" width="1" height="32" fill="#ff4a00"/>
<rect x="713" y="175" width="1" height="37" fill="#ff0000"/>
<rect x="712" y="190" width="3" height="20" fill="#ff0000"/>
<rect x="713" y="191" width="1" height="18" fill="#ff4a00"/>
<rect x="717" y="187" width="1" height="7" fill="#ff0000"/>
<rect x="716" y="187" width="3" height="4" fill="#ff0000"/>
<rect x="717" y="188" width="1" height="2" fill="#ff4a00"/>
<rect x="721" y="177" width="1" height="28" fill="#32cd32"/>
<rect x="720" y="187" width="3" height="10" fill="#32cd32"/>
<rect x="725" y="178" width="1" height="19" fill="#ff0000"/>
<rect x="724" y="180" width="3" height="16" fill="#ff0000"/>
<rect x="725" y="181" width="1" height="14" fill="#ff4a00"/>
<rect x="729" y="168" width="1" height="23" fill="#ff0000"/>
<rect x="728" y="170" width="3" height="12" fill="#ff0000"/>
<rect x="729" y="171" width="1" height="10" fill="#ff4a00"/>
<rect x="733" y="162" width="1" height="25" fill="#32cd32"/>
<rect x="732" y="170" width="3" height="5" fill="#32cd32"/>
<rect x="737" y="164" width="1" height="34" fill="#ff0000"/>
<rect x="736" y="165" width="3" height="11" fill="#ff0000"/>
<rect x="737" y="166" width="1" height="9" fill="#ff4a00"/>
<rect x="741" y="161" width="1" height="7" fill="#32cd32"/>
<rect x="740" y="164" width="3" height="3" fill="#32cd32"/>
<rect x="745" y="156" width="1" height="18" fill="#ff0000"/>
<rect x="744" y="160" width="3" height="11" fill="#ff0000"/>
<rect x="745" y="161" width="1" height="9" fill="#ff4a00"/>
<rect x="749" y="149" width="1" height="13" fill="#ff0000"/>
<rect x="748" y="149" width="3" height="11" fill="#ff0000"/>
<rect x="749" y="150" width="1" height="9" fill="#ff4a00"/>
<rect x="753" y="144" width="1" height="25" fill="#32cd32"/>
<rect x="752" y="149" width="3" height="9" fill="#32cd32"/>
<rect x="757" y="150" width="1" height="32" fill="#32cd32"/>
<rect x="756" y="157" width="3" height="8" fill="#32cd32"/>
<rect x="761" y="153" width="1" height="20" fill="#ff0000"/>
<rect x="760" y="158" width="3" height="7" fill="#ff0000"/>
<rect x="761" y="159" width="1" height="5" fill="#ff4a00"/>
<rect x="765" y="154" width="1" height="7" fill="#ff0000"/>
<rect x="764" y="157" width="3" height="1" fill="#ff0000"/>
<rect x="769" y="162" width="1" height="14" fill="#32cd32"/>
<rect x="768" y="167" width="3" height="1" fill="#32cd32"/>
<rect x="773" y="167" width="1" height="19" fill="#32cd32"/>
<rect x="772" y="168" width="3" height="5" fill="#32cd32"/>
<rect x="777" y="149" width="1" height="25" fill="#ff0000"/>
<rect x="776" y="152" width="3" height="21" fill="#ff0000"/>
<rect x="777" y="153" width="1" height="19" fill="#ff4a00"/>
<rect x="781" y="139" width="1" height="25" fill="#32cd32"/>
<rect x="780" y="152" width="3" height="5" fill="#32cd32"/>
<rect x="785" y="148" width="1" height="20" fill="#ff0000"/>
<rect x="784" y="153" width="3" height="4" fill="#ff0000"/>
<rect x="785" y="154" width="1" height="2" fill="#ff4a00"/>
<rect x="789" y="150" width="1" height="10" fill="#ff0000"/>
<rect x="788" y="151" width="3" height="3" fill="#ff0000"/>
<rect x="789" y="152" width="1" height="1" fill="#ff4a00"/>
<rect x="793" y="134" width="1" height="19" fill="#ff0000"/>
<rect x="792" y="136" width="3" height="13" fill="#ff0000"/>
<rect x="793" y="137" width="1" height="11" fill="#ff4a00"/>
<rect x="797" y="134" width="1" height="16" fill="#32cd32"/>
<rect x="796" y="136" width="3" height="4" fill="#32cd32"/>
<rect x="801" y="129" width="1" height="13" fill="#ff0000"/>
<rect x="800" y="138" width="3" height="2" fill="#ff0000"/>
<rect x="805" y="136" width="1" height="27" fill="#32cd32"/>
<rect x="804" y="138" width="3" height="24" fill="#32cd32"/>
<rect x="809" y="142" width="1" height="23" fill="#ff0000"/>
<rect x="808" y="142" width="3" height="20" fill="#ff0000"/>
<rect x="809" y="143" width="1" height="18" fill="#ff4a00"/>
<rect x="813" y="141" width="1" height="4" fill="#32cd32"/>
<rect x="812" y="142" width="3" height="2" fill="#32cd32"/>
<rect x="817" y="137" width="1" height="15" fill="#ff0000"/>
<rect x="816" y="141" width="3" height="3" fill="#ff0000"/>
<rect x="817" y="142" width="1" height="1" fill="#ff4a00"/>
<rect x="821" y="135" width="1" height="13" fill="#ff0000"/>
<rect x="820" y="136" width="3" height="6" fill="#ff0000"/>
<rect x="821" y="137" width="1" height="4" fill="#ff4a00"/>
<rect x="825" y="134" width="1" height="9" fill="#32cd32"/>
<rect x="824" y="136" width="3" height="1" fill="#32cd32"/>
<rect x="829" y="96" width="1" height="47" fill="#ff0000"/>
<rect x="828" y="100" width="3" height="36" fill="#ff0000"/>
<rect x="829" y="101" width="1" height="34" fill="#ff4a00"/>
<rect x="833" y="87" width="1" height="14" fill="#ff0000"/>
<rect x="832" y="99" width="3" height="1" fill="#ff0000"/>
<rect x="837" y="92" width="1" height="10" fill="#ff0000"/>
<rect x="836" y="93" width="3" height="7" fill="#ff0000"/>
<rect x="837" y="94" width="1" height="5" fill="#ff4a00"/>
<rect x="841" y="84" width="1" height="17" fill="#32cd32"/>
<rect x="840" y="94" width="3" height="1" fill="#32cd32"/>
<rect x="845" y="90" width="1" height="13" fill="#ff0000"/>
<rect x="844" y="92" width="3" height="4" fill="#ff0000"/>
<rect x="845" y="93" width="1" height="2" fill="#ff4a00"/>
<rect x="849" y="76" width="1" height="31" fill="#32cd32"/>
<rect x="848" y="92" width="3" height="8" fill="#32cd32"/>
<rect x="853" y="76" width="1" height="32" fill="#ff0000"/>
<rect x="852" y="77" width="3" height="24" fill="#ff0000"/>
<rect x="853" y="78" width="1" height="22" fill="#ff4a00"/>
<rect x="857" y="60" width="1" height="21" fill="#ff0000"/>
<rect x="856" y="65" width="3" height="12" fill="#ff0000"/>
<rect x="857" y="66" width="1" height="10" fill="#ff4a00"/>
<rect x="861" y="105" width="1" height="22" fill="#ff0000"/>
<rect x="860" y="112" width="3" height="7" fill="#ff0000"/>
<rect x="861" y="113" width="1" height="5" fill="#ff4a00"/>
<rect x="865" y="108" width="1" height="12" fill="#32cd32"/>
<rect x="864" y="111" width="3" height="2" fill="#32cd32"/>
<rect x="869" y="108" width="1" height="12" fill="#ff0000"/>
<rect x="868" y="110" width="3" height="3" fill="#ff0000"/>
<rect x="869" y="111" width="1" height="1" fill="#ff4a00"/>
<rect x="873" y="103" width="1" height="13" fill="#ff0000"/>
<rect x="872" y="103" width="3" height="7" fill="#ff0000"/>
<rect x="873" y="104" width="1" height="5" fill="#ff4a00"/>
<rect x="877" y="102" width="1" height="7" fill="#ff0000"/>
<rect x="876" y="103" width="3" height="2" fill="#ff0000"/>
<rect x="881" y="72" width="1" height="24" fill="#ff0000"/>
<rect x="880" y="72" width="3" height="9" fill="#ff0000"/>
<rect x="881" y="73" width="1" height="7" fill="#ff4a00"/>
<rect x="885" y="53" width="1" height="21" fill="#ff0000"/>
<rect x="884" y="57" width="3" height="15" fill="#ff0000"/>
<rect x="885" y="58" width="1" height="13" fill="#ff4a00"/>
<rect x="889" y="53" width="1" height="22" fill="#32cd32"/>
<rect x="888" y="57" width="3" height="8" fill="#32cd32"/>
<rect x="893" y="44" width="1" height="53" fill="#32cd32"/>
<rect x="892" y="64" width="3" height="26" fill="#32cd32"/>
<rect x="897" y="73" width="1" height="59" fill="#32cd32"/>
<rect x="896" y="88" width="3" height="29" fill="#32cd32"/>
<rect x="901" y="112" width="1" height="8" fill="#ff0000"/>
<rect x="900" y="113" width="3" height="4" fill="#ff0000"/>
<rect x="901" y="114" width="1" height="2" fill="#ff4a00"/>
<rect x="905" y="106" width="1" height="17" fill="#32cd32"/>
<rect x="904" y="115" width="3" height="4" fill="#32cd32"/>
<rect x="909" y="90" width="1" height="37" fill="#ff0000"/>
<rect x="908" y="94" width="3" height="24" fill="#ff0000"/>
<rect x="909" y="95" width="1" height="22" fill="#ff4a00"/>
<rect x="913" y="89" width="1" height="21" fill="#32cd32"/>
<rect x="912" y="94" width="3" height="15" fill="#32cd32"/>
<rect x="917" y="78" width="1" height="32" fill="#ff0000"/>
<rect x="916" y="98" width="3" height="11" fill="#ff0000"/>
<rect x="917" y="99" width="1" height="9" fill="#ff4a00"/>
<rect x="921" y="86" width="1" height="34" fill="#32cd32"/>
<rect x="920" y="98" width="3" height="20" fill="#32cd32"/>
<rect x="925" y="118" width="1" height="6" fill="#32cd32"/>
<rect x="924" y="118" width="3" height="4" fill="#32cd32"/>
</g>
<rect x="1168" y="47" width="2" height="1" fill="#000" />
<text x="1173.5" y="51" font-size="9.8" fill="#000" class="t" stroke="#000" textLength="32.3" lengthAdjust="spacingAndGlyphs" >120.540</text>
<rect x="1168" y="80" width="2" height="1" fill="#000" />
<text x="1173.5" y="84" font-size="9.8" fill="#000" class="t" stroke="#000" textLength="32.3" lengthAdjust="spacingAndGlyphs" >118.380</text>
<rect x="1168" y="113" width="2" height="1" fill="#000" />
<text x="1173.5" y="117" font-size="9.8" fill="#000" class="t" stroke="#000" textLength="32.3" lengthAdjust="spacingAndGlyphs" >116.280</text>
<rect x="1168" y="146" width="2" height="1" fill="#000" />
<text x="1173.5" y="150" font-size="9.8" fill="#000" class="t" stroke="#000" textLength="32.3" lengthAdjust="spacingAndGlyphs" >114.120</text>
<rect x="1168" y="179" width="2" height="1" fill="#000" />
<text x="1173.5" y="183" font-size="9.8" fill="#000" class="t" stroke="#000" textLength="32.3" lengthAdjust="spacingAndGlyphs" >112.020</text>
<rect x="1168" y="212" width="2" height="1" fill="#000" />
<text x="1173.5" y="216" font-size="9.8" fill="#000" class="t" stroke="#000" textLength="32.3" lengthAdjust="spacingAndGlyphs" >109.860</text>
<rect x="1168" y="245" width="2" height="1" fill="#000" />
<text x="1173.5" y="249" font-size="9.8" fill="#000" class="t" stroke="#000" textLength="32.3" lengthAdjust="spacingAndGlyphs" >107.760</text>
<rect x="1168" y="279" width="2" height="1" fill="#000" />
<text x="1173.5" y="283" font-size="9.8" fill="#000" class="t" stroke="#000" textLength="32.3" lengthAdjust="spacingAndGlyphs" >105.600</text>
<rect x="1168" y="311" width="2" height="1" fill="#000" />
<text x="1173.5" y="315" font-size="9.8" fill="#000" class="t" stroke="#000" textLength="32.3" lengthAdjust="spacingAndGlyphs" >103.500</text>
<rect x="1168" y="344" width="2" height="1" fill="#000" />
<text x="1173.5" y="348" font-size="9.8" fill="#000" class="t" stroke="#000" textLength="32.3" lengthAdjust="spacingAndGlyphs" >101.400</text>
<rect x="1168" y="377" width="2" height="1" fill="#000" />
<text x="1173.5" y="381" font-size="9.8" fill="#000" class="t" stroke="#000" textLength="27.3" lengthAdjust="spacingAndGlyphs" >99.240</text>
<rect x="1168" y="410" width="2" height="1" fill="#000" />
<text x="1173.5" y="414" font-size="9.8" fill="#000" class="t" stroke="#000" textLength="27.3" lengthAdjust="spacingAndGlyphs" >97.140</text>
<rect x="1169" y="64" width="39" height="11" fill="#ff0000" />
<text x="1173.5" y="73" font-size="9.8" fill="#fff" class="t" stroke="#fff" textLength="32.3" lengthAdjust="spacingAndGlyphs" >119.007</text>
<rect x="1169" y="116" width="39" height="11" fill="#000" />
<text x="1173.5" y="125" font-size="9.8" fill="#fff" class="t" stroke="#fff" textLength="32.3" lengthAdjust="spacingAndGlyphs" >115.750</text>
<rect x="1169" y="126" width="39" height="11" fill="#00ff00" />
<text x="1173.5" y="135" font-size="9.8" fill="#fff" class="t" stroke="#fff" textLength="32.3" lengthAdjust="spacingAndGlyphs" >115.021</text>
<rect x="1169" y="188" width="39" height="11" fill="#0000ff" />
<text x="1173.5" y="197" font-size="9.8" fill="#fff" class="t" stroke="#fff" textLength="32.3" lengthAdjust="spacingAndGlyphs" >111.024</text>
<rect x="1169" y="250" width="39" height="11" fill="#0000ff" />
<text x="1173.5" y="259" font-size="9.8" fill="#fff" class="t" stroke="#fff" textLength="32.3" lengthAdjust="spacingAndGlyphs" >107.026</text>
<path d="M8 35.5 L15 35.5 L11.5 30.5 Z" fill="#000"/>
<text x="20.3" y="36.3" font-size="9.8" fill="#000" class="t" stroke="#000" textLength="42.5" lengthAdjust="spacingAndGlyphs" >UKOil-,H4</text>
<text x="69.8" y="36.3" font-size="9.8" fill="#000" class="t" stroke="#000" textLength="140.5" lengthAdjust="spacingAndGlyphs" >115.912 115.953 115.617 115.750</text>
<rect x="4" y="453" width="3" height="18" fill="#c0c0c0"/>
<rect x="8" y="453" width="3" height="21" fill="#c0c0c0"/>
<rect x="12" y="453" width="3" height="21" fill="#c0c0c0"/>
<rect x="16" y="453" width="3" height="25" fill="#c0c0c0"/>
<rect x="20" y="453" width="3" height="25" fill="#c0c0c0"/>
<rect x="24" y="453" width="3" height="25" fill="#c0c0c0"/>
<rect x="28" y="453" width="3" height="26" fill="#c0c0c0"/>
<rect x="32" y="453" width="3" height="25" fill="#c0c0c0"/>
<rect x="36" y="453" width="3" height="26" fill="#c0c0c0"/>
<rect x="40" y="453" width="3" height="25" fill="#c0c0c0"/>
<rect x="44" y="453" width="3" height="22" fill="#c0c0c0"/>
<rect x="48" y="453" width="3" height="20" fill="#c0c0c0"/>
<rect x="52" y="453" width="3" height="21" fill="#c0c0c0"/>
<rect x="56" y="453" width="3" height="20" fill="#c0c0c0"/>
<rect x="60" y="453" width="3" height="23" fill="#c0c0c0"/>
<rect x="64" y="453" width="3" height="23" fill="#c0c0c0"/>
<rect x="68" y="453" width="3" height="23" fill="#c0c0c0"/>
<rect x="72" y="453" width="3" height="23" fill="#c0c0c0"/>
<rect x="76" y="453" width="3" height="21" fill="#c0c0c0"/>
<rect x="80" y="453" width="3" height="19" fill="#c0c0c0"/>
<rect x="84" y="453" width="3" height="15" fill="#c0c0c0"/>
<rect x="88" y="453" width="3" height="9" fill="#c0c0c0"/>
<rect x="92" y="453" width="3" height="5" fill="#c0c0c0"/>
<rect x="96" y="453" width="3" height="2" fill="#c0c0c0"/>
<rect x="100" y="451" width="3" height="2" fill="#c0c0c0"/>
<rect x="104" y="450" width="3" height="3" fill="#c0c0c0"/>
<rect x="108" y="446" width="3" height="7" fill="#c0c0c0"/>
<rect x="112" y="443" width="3" height="10" fill="#c0c0c0"/>
<rect x="116" y="438" width="3" height="15" fill="#c0c0c0"/>
<rect x="120" y="435" width="3" height="18" fill="#c0c0c0"/>
<rect x="124" y="433" width="3" height="20" fill="#c0c0c0"/>
<rect x="128" y="433" width="3" height="20" fill="#c0c0c0"/>
<rect x="132" y="433" width="3" height="20" fill="#c0c0c0"/>
<rect x="136" y="433" width="3" height="20" fill="#c0c0c0"/>
<rect x="140" y="430" width="3" height="23" fill="#c0c0c0"/>
<rect x="144" y="427" width="3" height="26" fill="#c0c0c0"/>
<rect x="148" y="424" width="3" height="29" fill="#c0c0c0"/>
<rect x="152" y="423" width="3" height="30" fill="#c0c0c0"/>
<rect x="156" y="423" width="3" height="30" fill="#c0c0c0"/>
<rect x="160" y="421" width="3" height="32" fill="#c0c0c0"/>
<rect x="164" y="420" width="3" height="33" fill="#c0c0c0"/>
<rect x="168" y="420" width="3" height="33" fill="#c0c0c0"/>
<rect x="172" y="420" width="3" height="33" fill="#c0c0c0"/>
<rect x="176" y="421" width="3" height="32" fill="#c0c0c0"/>
<rect x="180" y="424" width="3" height="29" fill="#c0c0c0"/>
<rect x="184" y="430" width="3" height="23" fill="#c0c0c0"/>
<rect x="188" y="436" width="3" height="17" fill="#c0c0c0"/>
<rect x="192" y="440" width="3" height="13" fill="#c0c0c0"/>
<rect x="196" y="444" width="3" height="9" fill="#c0c0c0"/>
<rect x="200" y="445" width="3" height="8" fill="#c0c0c0"/>
<rect x="204" y="446" width="3" height="7" fill="#c0c0c0"/>
<rect x="208" y="451" width="3" height="2" fill="#c0c0c0"/>
<rect x="212" y="452" width="3" height="1" fill="#c0c0c0"/>
<rect x="216" y="453" width="3" height="2" fill="#c0c0c0"/>
<rect x="220" y="453" width="3" height="2" fill="#c0c0c0"/>
<rect x="224" y="453" width="3" height="1" fill="#c0c0c0"/>
<rect x="228" y="453" width="3" height="2" fill="#c0c0c0"/>
<rect x="232" y="453" width="3" height="1" fill="#c0c0c0"/>
<rect x="236" y="453" width="3" height="1" fill="#c0c0c0"/>
<rect x="240" y="453" width="3" height="1" fill="#c0c0c0"/>
<rect x="244" y="453" width="3" height="2" fill="#c0c0c0"/>
<rect x="248" y="453" width="3" height="2" fill="#c0c0c0"/>
<rect x="252" y="453" width="3" height="3" fill="#c0c0c0"/>
<rect x="256" y="453" width="3" height="5" fill="#c0c0c0"/>
<rect x="260" y="453" width="3" height="6" fill="#c0c0c0"/>
<rect x="264" y="453" width="3" height="8" fill="#c0c0c0"/>
<rect x="268" y="453" width="3" height="11" fill="#c0c0c0"/>
<rect x="272" y="453" width="3" height="15" fill="#c0c0c0"/>
<rect x="276" y="453" width="3" height="19" fill="#c0c0c0"/>
<rect x="280" y="453" width="3" height="23" fill="#c0c0c0"/>
<rect x="284" y="453" width="3" height="23" fill="#c0c0c0"/>
<rect x="288" y="453" width="3" height="23" fill="#c0c0c0"/>
<rect x="292" y="453" width="3" height="22" fill="#c0c0c0"/>
<rect x="296" y="453" width="3" height="23" fill="#c0c0c0"/>
<rect x="300" y="453" width="3" height="21" fill="#c0c0c0"/>
<rect x="304" y="453" width="3" height="18" fill="#c0c0c0"/>
<rect x="308" y="453" width="3" height="16" fill="#c0c0c0"/>
<rect x="312" y="453" width="3" height="14" fill="#c0c0c0"/>
<rect x="316" y="453" width="3" height="12" fill="#c0c0c0"/>
<rect x="320" y="453" width="3" height="11" fill="#c0c0c0"/>
<rect x="324" y="453" width="3" height="10" fill="#c0c0c0"/>
<rect x="328" y="453" width="3" height="9" fill="#c0c0c0"/>
<rect x="332" y="453" width="3" height="8" fill="#c0c0c0"/>
<rect x="336" y="453" width="3" height="8" fill="#c0c0c0"/>
<rect x="340" y="453" width="3" height="7" fill="#c0c0c0"/>
<rect x="344" y="453" width="3" height="7" fill="#c0c0c0"/>
<rect x="348" y="453" width="3" height="4" fill="#c0c0c0"/>
<rect x="352" y="453" width="3" height="1" fill="#c0c0c0"/>
<rect x="356" y="451" width="3" height="2" fill="#c0c0c0"/>
<rect x="360" y="449" width="3" height="4" fill="#c0c0c0"/>
<rect x="364" y="446" width="3" height="7" fill="#c0c0c0"/>
<rect x="368" y="444" width="3" height="9" fill="#c0c0c0"/>
<rect x="372" y="442" width="3" height="11" fill="#c0c0c0"/>
<rect x="376" y="443" width="3" height="10" fill="#c0c0c0"/>
<rect x="380" y="444" width="3" height="9" fill="#c0c0c0"/>
<rect x="384" y="445" width="3" height="8" fill="#c0c0c0"/>
<rect x="388" y="446" width="3" height="7" fill="#c0c0c0"/>
<rect x="392" y="450" width="3" height="3" fill="#c0c0c0"/>
<rect x="396" y="450" width="3" height="3" fill="#c0c0c0"/>
<rect x="400" y="448" width="3" height="5" fill="#c0c0c0"/>
<rect x="404" y="447" width="3" height="6" fill="#c0c0c0"/>
<rect x="408" y="447" width="3" height="6" fill="#c0c0c0"/>
<rect x="412" y="447" width="3" height="6" fill="#c0c0c0"/>
<rect x="416" y="448" width="3" height="5" fill="#c0c0c0"/>
<rect x="420" y="449" width="3" height="4" fill="#c0c0c0"/>
<rect x="424" y="451" width="3" height="2" fill="#c0c0c0"/>
<rect x="428" y="451" width="3" height="2" fill="#c0c0c0"/>
<rect x="432" y="452" width="3" height="1" fill="#c0c0c0"/>
<rect x="436" y="451" width="3" height="2" fill="#c0c0c0"/>
<rect x="440" y="448" width="3" height="5" fill="#c0c0c0"/>
<rect x="444" y="447" width="3" height="6" fill="#c0c0c0"/>
<rect x="448" y="444" width="3" height="9" fill="#c0c0c0"/>
<rect x="452" y="442" width="3" height="11" fill="#c0c0c0"/>
<rect x="456" y="440" width="3" height="13" fill="#c0c0c0"/>
<rect x="460" y="439" width="3" height="14" fill="#c0c0c0"/>
<rect x="464" y="437" width="3" height="16" fill="#c0c0c0"/>
<rect x="468" y="438" width="3" height="15" fill="#c0c0c0"/>
<rect x="472" y="437" width="3" height="16" fill="#c0c0c0"/>
<rect x="476" y="436" width="3" height="17" fill="#c0c0c0"/>
<rect x="480" y="436" width="3" height="17" fill="#c0c0c0"/>
<rect x="484" y="436" width="3" height="17" fill="#c0c0c0"/>
<rect x="488" y="435" width="3" height="18" fill="#c0c0c0"/>
<rect x="492" y="433" width="3" height="20" fill="#c0c0c0"/>
<rect x="496" y="433" width="3" height="20" fill="#c0c0c0"/>
<rect x="500" y="432" width="3" height="21" fill="#c0c0c0"/>
<rect x="504" y="433" width="3" height="20" fill="#c0c0c0"/>
<rect x="508" y="434" width="3" height="19" fill="#c0c0c0"/>
<rect x="512" y="438" width="3" height="15" fill="#c0c0c0"/>
<rect x="516" y="444" width="3" height="9" fill="#c0c0c0"/>
<rect x="520" y="450" width="3" height="3" fill="#c0c0c0"/>
<rect x="524" y="453" width="3" height="4" fill="#c0c0c0"/>
<rect x="528" y="453" width="3" height="8" fill="#c0c0c0"/>
<rect x="532" y="453" width="3" height="10" fill="#c0c0c0"/>
<rect x="536" y="453" width="3" height="13" fill="#c0c0c0"/>
<rect x="540" y="453" width="3" height="17" fill="#c0c0c0"/>
<rect x="544" y="453" width="3" height="21" fill="#c0c0c0"/>
<rect x="548" y="453" width="3" height="24" fill="#c0c0c0"/>
<rect x="552" y="453" width="3" height="23" fill="#c0c0c0"/>
<rect x="556" y="453" width="3" height="22" fill="#c0c0c0"/>
<rect x="560" y="453" width="3" height="19" fill="#c0c0c0"/>
<rect x="564" y="453" width="3" height="16" fill="#c0c0c0"/>
<rect x="568" y="453" width="3" height="14" fill="#c0c0c0"/>
<rect x="572" y="453" width="3" height="11" fill="#c0c0c0"/>
<rect x="576" y="453" width="3" height="10" fill="#c0c0c0"/>
<rect x="580" y="453" width="3" height="10" fill="#c0c0c0"/>
<rect x="584" y="453" width="3" height="9" fill="#c0c0c0"/>
<rect x="588" y="453" width="3" height="7" fill="#c0c0c0"/>
<rect x="592" y="453" width="3" height="5" fill="#c0c0c0"/>
<rect x="596" y="453" width="3" height="3" fill="#c0c0c0"/>
<rect x="600" y="452" width="3" height="1" fill="#c0c0c0"/>
<rect x="604" y="451" width="3" height="2" fill="#c0c0c0"/>
<rect x="608" y="449" width="3" height="4" fill="#c0c0c0"/>
<rect x="612" y="446" width="3" height="7" fill="#c0c0c0"/>
<rect x="616" y="443" width="3" height="10" fill="#c0c0c0"/>
<rect x="620" y="441" width="3" height="12" fill="#c0c0c0"/>
<rect x="624" y="441" width="3" height="12" fill="#c0c0c0"/>
<rect x="628" y="441" width="3" height="12" fill="#c0c0c0"/>
<rect x="632" y="441" width="3" height="12" fill="#c0c0c0"/>
<rect x="636" y="438" width="3" height="15" fill="#c0c0c0"/>
<rect x="640" y="435" width="3" height="18" fill="#c0c0c0"/>
<rect x="644" y="433" width="3" height="20" fill="#c0c0c0"/>
<rect x="648" y="431" width="3" height="22" fill="#c0c0c0"/>
<rect x="652" y="430" width="3" height="23" fill="#c0c0c0"/>
<rect x="656" y="428" width="3" height="25" fill="#c0c0c0"/>
<rect x="660" y="428" width="3" height="25" fill="#c0c0c0"/>
<rect x="664" y="432" width="3" height="21" fill="#c0c0c0"/>
<rect x="668" y="433" width="3" height="20" fill="#c0c0c0"/>
<rect x="672" y="435" width="3" height="18" fill="#c0c0c0"/>
<rect x="676" y="435" width="3" height="18" fill="#c0c0c0"/>
<rect x="680" y="436" width="3" height="17" fill="#c0c0c0"/>
<rect x="684" y="440" width="3" height="13" fill="#c0c0c0"/>
<rect x="688" y="444" width="3" height="9" fill="#c0c0c0"/>
<rect x="692" y="448" width="3" height="5" fill="#c0c0c0"/>
<rect x="696" y="449" width="3" height="4" fill="#c0c0c0"/>
<rect x="700" y="451" width="3" height="2" fill="#c0c0c0"/>
<rect x="704" y="453" width="3" height="2" fill="#c0c0c0"/>
<rect x="708" y="453" width="3" height="3" fill="#c0c0c0"/>
<rect x="712" y="453" width="3" height="2" fill="#c0c0c0"/>
<rect x="716" y="453" width="3" height="1" fill="#c0c0c0"/>
<rect x="720" y="453" width="3" height="1" fill="#c0c0c0"/>
<rect x="724" y="451" width="3" height="2" fill="#c0c0c0"/>
<rect x="728" y="450" width="3" height="3" fill="#c0c0c0"/>
<rect x="732" y="449" width="3" height="4" fill="#c0c0c0"/>
<rect x="736" y="448" width="3" height="5" fill="#c0c0c0"/>
<rect x="740" y="447" width="3" height="6" fill="#c0c0c0"/>
<rect x="744" y="446" width="3" height="7" fill="#c0c0c0"/>
<rect x="748" y="444" width="3" height="9" fill="#c0c0c0"/>
<rect x="752" y="444" width="3" height="9" fill="#c0c0c0"/>
<rect x="756" y="444" width="3" height="9" fill="#c0c0c0"/>
<rect x="760" y="444" width="3" height="9" fill="#c0c0c0"/>
<rect x="764" y="444" width="3" height="9" fill="#c0c0c0"/>
<rect x="768" y="444" width="3" height="9" fill="#c0c0c0"/>
<rect x="772" y="445" width="3" height="8" fill="#c0c0c0"/>
<rect x="776" y="445" width="3" height="8" fill="#c0c0c0"/>
<rect x="780" y="445" width="3" height="8" fill="#c0c0c0"/>
<rect x="784" y="445" width="3" height="8" fill="#c0c0c0"/>
<rect x="788" y="444" width="3" height="9" fill="#c0c0c0"/>
<rect x="792" y="443" width="3" height="10" fill="#c0c0c0"/>
<rect x="796" y="443" width="3" height="10" fill="#c0c0c0"/>
<rect x="800" y="443" width="3" height="10" fill="#c0c0c0"/>
<rect x="804" y="444" width="3" height="9" fill="#c0c0c0"/>
<rect x="808" y="444" width="3" height="9" fill="#c0c0c0"/>
<rect x="812" y="444" width="3" height="9" fill="#c0c0c0"/>
<rect x="816" y="444" width="3" height="9" fill="#c0c0c0"/>
<rect x="820" y="444" width="3" height="9" fill="#c0c0c0"/>
<rect x="824" y="444" width="3" height="9" fill="#c0c0c0"/>
<rect x="828" y="441" width="3" height="12" fill="#c0c0c0"/>
<rect x="832" y="440" width="3" height="13" fill="#c0c0c0"/>
<rect x="836" y="438" width="3" height="15" fill="#c0c0c0"/>
<rect x="840" y="437" width="3" height="16" fill="#c0c0c0"/>
<rect x="844" y="436" width="3" height="17" fill="#c0c0c0"/>
<rect x="848" y="436" width="3" height="17" fill="#c0c0c0"/>
<rect x="852" y="435" width="3" height="18" fill="#c0c0c0"/>
<rect x="856" y="433" width="3" height="20" fill="#c0c0c0"/>
<rect x="860" y="435" width="3" height="18" fill="#c0c0c0"/>
<rect x="864" y="437" width="3" height="16" fill="#c0c0c0"/>
<rect x="868" y="439" width="3" height="14" fill="#c0c0c0"/>
<rect x="872" y="440" width="3" height="13" fill="#c0c0c0"/>
<rect x="876" y="441" width="3" height="12" fill="#c0c0c0"/>
<rect x="880" y="439" width="3" height="14" fill="#c0c0c0"/>
<rect x="884" y="437" width="3" height="16" fill="#c0c0c0"/>
<rect x="888" y="437" width="3" height="16" fill="#c0c0c0"/>
<rect x="892" y="438" width="3" height="15" fill="#c0c0c0"/>
<rect x="896" y="441" width="3" height="12" fill="#c0c0c0"/>
<rect x="900" y="443" width="3" height="10" fill="#c0c0c0"/>
<rect x="904" y="445" width="3" height="8" fill="#c0c0c0"/>
<rect x="908" y="446" width="3" height="7" fill="#c0c0c0"/>
<rect x="912" y="447" width="3" height="6" fill="#c0c0c0"/>
<rect x="916" y="447" width="3" height="6" fill="#c0c0c0"/>
<rect x="920" y="449" width="3" height="4" fill="#c0c0c0"/>
<rect x="924" y="450" width="3" height="3" fill="#c0c0c0"/>
<polyline points="5.5,462.9 9.5,464.5 13.5,466.1 17.5,468.0 21.5,470.0 25.5,471.9 29.5,473.8 33.5,475.0 37.5,476.1 41.5,476.8 45.5,476.9 49.5,476.9 53.5,476.4 57.5,475.8 61.5,475.6 65.5,475.2 69.5,475.0 73.5,474.7 77.5,474.3 81.5,474.0 85.5,473.5 89.5,472.2 93.5,470.6 97.5,468.3 101.5,465.6 105.5,462.7 109.5,459.6 113.5,456.2 117.5,452.5 121.5,449.0 125.5,445.9 129.5,443.2 133.5,440.9 137.5,438.9 141.5,436.6 145.5,434.5 149.5,432.4 153.5,430.7 157.5,429.3 161.5,427.9 165.5,426.5 169.5,425.1 173.5,423.6 177.5,422.7 181.5,422.3 185.5,423.1 189.5,424.4 193.5,426.3 197.5,428.8 201.5,431.6 205.5,434.5 209.5,437.9 213.5,441.4 217.5,444.7 221.5,447.4 225.5,449.3 229.5,450.9 233.5,451.9 237.5,452.8 241.5,453.5 245.5,453.9 249.5,454.0 253.5,454.2 257.5,454.4 261.5,455.0 265.5,455.6 269.5,456.7 273.5,458.3 277.5,460.3 281.5,462.6 285.5,465.0 289.5,467.3 293.5,469.2 297.5,471.0 301.5,472.5 305.5,473.4 309.5,473.5 313.5,472.9 317.5,471.7 321.5,470.3 325.5,468.8 329.5,467.4 333.5,465.7 337.5,464.2 341.5,462.9 345.5,461.9 349.5,460.9 353.5,459.7 357.5,458.3 361.5,456.8 365.5,455.2 369.5,453.5 373.5,451.5 377.5,449.7 381.5,448.1 385.5,446.9 389.5,446.1 393.5,446.0 397.5,446.1 401.5,446.3 405.5,446.7 409.5,447.2 413.5,447.7 417.5,448.1 421.5,448.5 425.5,449.0 429.5,449.2 433.5,449.4 437.5,449.8 441.5,449.9 445.5,449.8 449.5,449.4 453.5,448.7 457.5,447.8 461.5,446.5 465.5,444.8 469.5,443.2 473.5,441.7 477.5,440.4 481.5,439.2 485.5,438.3 489.5,437.5 493.5,436.7 497.5,436.0 501.5,435.6 505.5,435.0 509.5,434.7 513.5,434.9 517.5,435.8 521.5,437.4 525.5,439.8 529.5,442.8 533.5,446.1 537.5,449.7 541.5,453.7 545.5,458.0 549.5,462.1 553.5,465.6 557.5,468.2 561.5,470.0 565.5,470.8 569.5,471.2 573.5,471.0 577.5,470.2 581.5,468.9 585.5,467.4 589.5,465.6 593.5,463.7 597.5,461.9 601.5,460.1 605.5,458.5 609.5,457.0 613.5,455.2 617.5,453.1 621.5,450.8 625.5,448.7 629.5,447.0 633.5,445.4 637.5,443.8 641.5,442.0 645.5,440.1 649.5,438.5 653.5,437.1 657.5,435.7 661.5,434.3 665.5,433.3 669.5,432.5 673.5,432.1 677.5,432.2 681.5,432.6 685.5,433.5 689.5,435.1 693.5,437.3 697.5,439.6 701.5,441.7 705.5,444.0 709.5,446.2 713.5,448.2 717.5,450.2 721.5,451.6 725.5,452.4 729.5,452.6 733.5,452.6 737.5,452.2 741.5,451.4 745.5,450.4 749.5,449.3 753.5,448.3 757.5,447.4 761.5,446.5 765.5,445.8 769.5,445.3 773.5,445.1 777.5,444.8 781.5,444.7 785.5,444.8 789.5,444.9 793.5,444.8 797.5,444.8 801.5,444.7 805.5,444.6 809.5,444.5 813.5,444.4 817.5,444.3 821.5,444.2 825.5,444.2 829.5,444.0 833.5,443.6 837.5,443.1 841.5,442.2 845.5,441.4 849.5,440.5 853.5,439.5 857.5,438.3 861.5,437.3 865.5,436.9 869.5,436.8 873.5,437.0 877.5,437.4 881.5,437.8 885.5,437.9 889.5,438.1 893.5,438.6 897.5,439.2 901.5,439.8 905.5,440.5 909.5,441.2 913.5,441.9 917.5,442.7 921.5,444.0 925.5,445.6" fill="none" stroke="#ff0000" stroke-width="1" shape-rendering="crispEdges"/>
<text x="9.6" y="428" font-size="9.8" fill="#000" class="t" stroke="#000" textLength="127.3" lengthAdjust="spacingAndGlyphs" >MACD(12,26,9) 0.2031 0.6048</text>
<rect x="1168" y="417" width="2" height="1" fill="#000" />
<rect x="1168" y="453" width="2" height="1" fill="#000" />
<rect x="1168" y="480" width="2" height="1" fill="#000" />
<text x="1171.3" y="426" font-size="9.8" fill="#000" class="t" stroke="#000" textLength="27.8" lengthAdjust="spacingAndGlyphs" >2.7138</text>
<text x="1171.3" y="456.9" font-size="9.8" fill="#000" class="t" stroke="#000" textLength="17.3" lengthAdjust="spacingAndGlyphs" >0.00</text>
<text x="1171.3" y="478" font-size="9.8" fill="#000" class="t" stroke="#000" textLength="30.8" lengthAdjust="spacingAndGlyphs" >-2.0293</text>
<line x1="5" y1="508.5" x2="1167" y2="508.5" stroke="#c0c0c0" stroke-width="1" stroke-dasharray="3,3"/>
<line x1="5" y1="540.5" x2="1167" y2="540.5" stroke="#c0c0c0" stroke-width="1" stroke-dasharray="3,3"/>
<polyline points="5.5,534.9 9.5,537.4 13.5,532.6 17.5,538.8 21.5,533.2 25.5,532.6 29.5,535.0 33.5,531.0 37.5,533.6 41.5,531.2 45.5,527.7 49.5,528.2 53.5,531.9 57.5,530.8 61.5,536.0 65.5,533.1 69.5,532.5 73.5,532.0 77.5,529.1 81.5,528.4 85.5,522.7 89.5,517.7 93.5,519.7 97.5,518.7 101.5,520.1 105.5,520.1 109.5,516.5 113.5,513.7 117.5,511.4 121.5,511.9 125.5,512.9 129.5,516.1 133.5,517.4 137.5,515.2 141.5,509.2 145.5,508.8 149.5,506.7 153.5,513.4 157.5,511.8 161.5,509.8 165.5,509.7 169.5,511.2 173.5,509.3 177.5,515.7 181.5,517.3 185.5,529.3 189.5,529.0 193.5,528.4 197.5,529.3 201.5,525.1 205.5,524.5 209.5,533.1 213.5,527.4 217.5,527.6 221.5,526.0 225.5,523.3 229.5,525.8 233.5,523.9 237.5,524.9 241.5,523.7 245.5,527.6 249.5,525.4 253.5,528.5 257.5,530.3 261.5,530.9 265.5,531.6 269.5,537.1 273.5,539.8 277.5,541.5 281.5,543.7 285.5,533.3 289.5,534.0 293.5,530.3 297.5,534.1 301.5,530.1 305.5,525.5 309.5,525.1 313.5,525.4 317.5,525.8 321.5,526.3 325.5,528.3 329.5,524.7 333.5,525.2 337.5,530.1 341.5,524.4 345.5,527.3 349.5,520.7 353.5,518.0 357.5,519.0 361.5,518.2 365.5,515.7 369.5,515.3 373.5,515.2 377.5,522.9 381.5,522.7 385.5,524.4 389.5,523.7 393.5,532.7 397.5,523.1 401.5,519.2 405.5,521.5 409.5,522.5 413.5,522.9 417.5,523.8 421.5,525.5 425.5,528.2 429.5,526.2 433.5,526.1 437.5,520.7 441.5,516.0 445.5,518.4 449.5,514.1 453.5,515.7 457.5,514.3 461.5,514.8 465.5,511.3 469.5,520.4 473.5,517.1 477.5,516.3 481.5,515.4 485.5,516.6 489.5,513.2 493.5,512.1 497.5,512.4 501.5,513.5 505.5,514.1 509.5,519.1 513.5,527.4 517.5,534.2 521.5,538.1 525.5,538.2 529.5,539.5 533.5,532.5 537.5,535.9 541.5,539.4 545.5,540.6 549.5,540.6 553.5,532.4 557.5,531.0 561.5,526.7 565.5,523.5 569.5,524.6 573.5,522.8 577.5,526.6 581.5,528.2 585.5,528.4 589.5,522.5 593.5,520.4 597.5,521.7 601.5,517.9 605.5,520.7 609.5,519.2 613.5,514.4 617.5,513.3 621.5,513.2 625.5,519.8 629.5,519.9 633.5,517.9 637.5,512.4 641.5,509.3 645.5,511.5 649.5,511.8 653.5,510.8 657.5,508.3 661.5,515.3 665.5,523.3 669.5,520.4 673.5,521.1 677.5,518.3 681.5,517.8 685.5,528.7 689.5,530.0 693.5,530.1 697.5,526.0 701.5,527.9 705.5,532.5 709.5,526.2 713.5,523.2 717.5,522.8 721.5,524.4 725.5,521.7 729.5,520.0 733.5,521.1 737.5,519.4 741.5,519.7 745.5,518.5 749.5,516.5 753.5,518.9 757.5,520.6 761.5,519.3 765.5,518.9 769.5,522.3 773.5,523.5 777.5,518.5 781.5,520.0 785.5,519.2 789.5,518.7 793.5,515.1 797.5,516.5 801.5,516.1 805.5,524.2 809.5,519.1 813.5,519.8 817.5,518.9 821.5,517.7 825.5,518.1 829.5,510.0 833.5,509.9 837.5,508.8 841.5,509.8 845.5,509.2 849.5,512.9 853.5,508.2 857.5,506.3 861.5,521.7 865.5,521.9 869.5,521.3 873.5,519.6 877.5,519.4 881.5,513.0 885.5,510.4 889.5,513.1 893.5,520.4 897.5,526.7 901.5,525.8 905.5,527.2 909.5,521.5 913.5,525.1 917.5,522.6 921.5,527.1 925.5,527.8" fill="none" stroke="#1e90ff" stroke-width="1" shape-rendering="crispEdges"/>
<text x="9.6" y="496" font-size="9.8" fill="#000" class="t" stroke="#000" textLength="66.8" lengthAdjust="spacingAndGlyphs" >RSI(14) 46.3611</text>
<rect x="1168" y="485" width="2" height="1" fill="#000" />
<rect x="1168" y="564" width="2" height="1" fill="#000" />
<text x="1171.3" y="494" font-size="9.8" fill="#000" class="t" stroke="#000" textLength="14.5" lengthAdjust="spacingAndGlyphs" >100</text>
<text x="1170.0" y="512" font-size="9.8" fill="#000" class="t" stroke="#000" textLength="10.2" lengthAdjust="spacingAndGlyphs" >70</text>
<text x="1170.0" y="544" font-size="9.8" fill="#000" class="t" stroke="#000" textLength="10.2" lengthAdjust="spacingAndGlyphs" >30</text>
<text x="1171.3" y="562" font-size="9.8" fill="#000" class="t" stroke="#000" textLength="4.8" lengthAdjust="spacingAndGlyphs" >0</text>
<rect x="5" y="566" width="1" height="3" fill="#000" />
<text x="4.5" y="578.3" font-size="9.8" fill="#000" class="t" stroke="#000" textLength="45.5" lengthAdjust="spacingAndGlyphs" >7 Apr 2022</text>
<rect x="69" y="566" width="1" height="3" fill="#000" />
<text x="68.5" y="578.3" font-size="9.8" fill="#000" class="t" stroke="#000" textLength="53" lengthAdjust="spacingAndGlyphs" >11 Apr 16:00</text>
<rect x="133" y="566" width="1" height="3" fill="#000" />
<text x="132.5" y="578.3" font-size="9.8" fill="#000" class="t" stroke="#000" textLength="53" lengthAdjust="spacingAndGlyphs" >14 Apr 08:00</text>
<rect x="197" y="566" width="1" height="3" fill="#000" />
<text x="196.5" y="578.3" font-size="9.8" fill="#000" class="t" stroke="#000" textLength="53" lengthAdjust="spacingAndGlyphs" >20 Apr 00:00</text>
<rect x="261" y="566" width="1" height="3" fill="#000" />
<text x="260.5" y="578.3" font-size="9.8" fill="#000" class="t" stroke="#000" textLength="53" lengthAdjust="spacingAndGlyphs" >22 Apr 16:00</text>
<rect x="325" y="566" width="1" height="3" fill="#000" />
<text x="324.5" y="578.3" font-size="9.8" fill="#000" class="t" stroke="#000" textLength="53" lengthAdjust="spacingAndGlyphs" >27 Apr 12:00</text>
<rect x="389" y="566" width="1" height="3" fill="#000" />
<text x="388.5" y="578.3" font-size="9.8" fill="#000" class="t" stroke="#000" textLength="52.3" lengthAdjust="spacingAndGlyphs" >2 May 04:00</text>
<rect x="453" y="566" width="1" height="3" fill="#000" />
<text x="452.5" y="578.3" font-size="9.8" fill="#000" class="t" stroke="#000" textLength="52.3" lengthAdjust="spacingAndGlyphs" >4 May 20:00</text>
<rect x="517" y="566" width="1" height="3" fill="#000" />
<text x="516.5" y="578.3" font-size="9.8" fill="#000" class="t" stroke="#000" textLength="52.3" lengthAdjust="spacingAndGlyphs" >9 May 12:00</text>
<rect x="581" y="566" width="1" height="3" fill="#000" />
<text x="580.5" y="578.3" font-size="9.8" fill="#000" class="t" stroke="#000" textLength="56.8" lengthAdjust="spacingAndGlyphs" >12 May 04:00</text>
<rect x="645" y="566" width="1" height="3" fill="#000" />
<text x="644.5" y="578.3" font-size="9.8" fill="#000" class="t" stroke="#000" textLength="56.8" lengthAdjust="spacingAndGlyphs" >16 May 20:00</text>
<rect x="709" y="566" width="1" height="3" fill="#000" />
<text x="708.5" y="578.3" font-size="9.8" fill="#000" class="t" stroke="#000" textLength="56.8" lengthAdjust="spacingAndGlyphs" >19 May 12:00</text>
<rect x="773" y="566" width="1" height="3" fill="#000" />
<text x="772.5" y="578.3" font-size="9.8" fill="#000" class="t" stroke="#000" textLength="56.8" lengthAdjust="spacingAndGlyphs" >24 May 04:00</text>
<rect x="837" y="566" width="1" height="3" fill="#000" />
<text x="836.5" y="578.3" font-size="9.8" fill="#000" class="t" stroke="#000" textLength="56.8" lengthAdjust="spacingAndGlyphs" >26 May 20:00</text>
<rect x="901" y="566" width="1" height="3" fill="#000" />
<text x="900.5" y="578.3" font-size="9.8" fill="#000" class="t" stroke="#000" textLength="56.8" lengthAdjust="spacingAndGlyphs" >31 May 20:00</text>
<rect x="6" y="42" width="223" height="61" fill="#fff"/>
<rect x="8" y="44" width="52" height="25" fill="url(#gr1)"/>
<rect x="175" y="44" width="52" height="25" fill="url(#gr1)"/>
<rect x="8" y="68" width="109" height="33" fill="url(#gr2)"/>
<rect x="119" y="68" width="108" height="33" fill="url(#gr2)"/>
<path d="M8.5 101 V44.5 H59.5 V68.5 H116.5 V101" fill="none" stroke="#a00000" stroke-opacity="0.45" stroke-width="1"/>
<path d="M119.5 101 V68.5 H175.5 V44.5 H226.5 V101" fill="none" stroke="#a00000" stroke-opacity="0.45" stroke-width="1"/>
<rect x="12" y="67" width="44" height="1" fill="#8c0000"/><rect x="12" y="68" width="44" height="1" fill="#ff7070"/>
<rect x="179" y="67" width="44" height="1" fill="#8c0000"/><rect x="179" y="68" width="44" height="1" fill="#ff7070"/>
<rect x="60" y="42" width="115" height="26" fill="#fff"/>
<rect x="62.5" y="44.5" width="110" height="21" fill="#fff" stroke="#abadb3" stroke-width="1"/>
<rect x="64" y="46" width="18" height="18" fill="url(#gb)"/><rect x="83" y="45" width="1" height="20" fill="#abadb3"/>
<rect x="153" y="46" width="18" height="18" fill="url(#gb)"/><rect x="151" y="45" width="1" height="20" fill="#abadb3"/>
<path d="M69.8 53 L75.4 53 L72.6 56.2 Z" fill="#4a60c4"/>
<path d="M158.8 56.2 L164.4 56.2 L161.6 52.8 Z" fill="#4a60c4"/>
<text x="148.5" y="60" font-size="14" fill="#000" text-anchor="end" textLength="24.5" lengthAdjust="spacingAndGlyphs">2.00</text>
<text x="20.5" y="61" font-size="14" fill="#fff" textLength="25.5" lengthAdjust="spacingAndGlyphs">SELL</text>
<text x="188.5" y="61" font-size="14" fill="#fff" textLength="24" lengthAdjust="spacingAndGlyphs">BUY</text>
<text x="31" y="96.2" font-size="12.3" font-weight="bold" fill="#fff" stroke="#fff" stroke-width="0.2" textLength="20.5" lengthAdjust="spacingAndGlyphs">115</text>
<text x="141.5" y="96.2" font-size="12.3" font-weight="bold" fill="#fff" stroke="#fff" stroke-width="0.2" textLength="20.5" lengthAdjust="spacingAndGlyphs">115</text>
<text x="55.2" y="96.2" font-size="34.6" fill="#fff" stroke="url(#gr2u)" stroke-width="0.45" textLength="34.5" lengthAdjust="spacingAndGlyphs">75</text>
<text x="166.2" y="96.2" font-size="34.6" fill="#fff" stroke="url(#gr2u)" stroke-width="0.45" textLength="34.5" lengthAdjust="spacingAndGlyphs">87</text>
<text x="94.8" y="80" font-size="11.6" font-weight="bold" fill="#fff" textLength="7" lengthAdjust="spacingAndGlyphs">0</text>
<text x="205.8" y="80" font-size="11.6" font-weight="bold" fill="#fff" textLength="7" lengthAdjust="spacingAndGlyphs">0</text>
<rect x="0" y="586" width="1208" height="1" fill="#e3e3e3" />
<rect x="0" y="587" width="1208" height="1" fill="#fff" />
<rect x="0" y="589" width="1208" height="25" fill="#f0f0f0" />
<rect x="0" y="588" width="1208" height="1" fill="#000" />
<rect x="0" y="586" width="1" height="2" fill="#a0a0a0" />
<rect x="1" y="586" width="1" height="1" fill="#a0a0a0" />
<rect x="0" y="589" width="1" height="19" fill="#a0a0a0" />
<rect x="1" y="589" width="1" height="18" fill="#696969" />
<rect x="2" y="589" width="1" height="18" fill="#fafafa" />
<rect x="2" y="589" width="1064" height="1" fill="#fafafa" />
<rect x="1146" y="589" width="62" height="1" fill="#fafafa" />
<rect x="0" y="608" width="1208" height="1" fill="#fcfcfc" />
<rect x="0" y="611" width="1208" height="1" fill="#f8f8f8" />
<rect x="0" y="612" width="1208" height="1" fill="#a0a0a0" />
<rect x="0" y="613" width="1208" height="1" fill="#fcfcfc" />
<rect x="1067" y="587" width="78" height="19" fill="#fff" />
<rect x="1066" y="588" width="1" height="19" fill="#000" />
<rect x="1145" y="588" width="1" height="19" fill="#000" />
<rect x="1066" y="606" width="80" height="1" fill="#000" />
<rect x="1146" y="590" width="1" height="18" fill="#b4b4b4" />
<rect x="1068" y="607" width="79" height="1" fill="#b4b4b4" />
<text x="16.799999999999997" y="603" font-size="13.2" fill="#6a6a6a" textLength="85.9" lengthAdjust="spacingAndGlyphs" class="g">EURUSD-,Daily</text>
<text x="123.4" y="603" font-size="13.2" fill="#6a6a6a" textLength="88.2" lengthAdjust="spacingAndGlyphs" class="g">AUDUSD-,Daily</text>
<text x="233.4" y="603" font-size="13.2" fill="#6a6a6a" textLength="85.2" lengthAdjust="spacingAndGlyphs" class="g">USDCHF-,Daily</text>
<text x="340.4" y="603" font-size="13.2" fill="#6a6a6a" textLength="87.2" lengthAdjust="spacingAndGlyphs" class="g">USDCAD-,Daily</text>
<text x="449.4" y="603" font-size="13.2" fill="#6a6a6a" textLength="89.2" lengthAdjust="spacingAndGlyphs" class="g">USDCNH-,Daily</text>
<text x="559.9" y="603" font-size="13.2" fill="#6a6a6a" textLength="75.7" lengthAdjust="spacingAndGlyphs" class="g">XAUUSD-,H4</text>
<text x="656.9" y="603" font-size="13.2" fill="#6a6a6a" textLength="57.7" lengthAdjust="spacingAndGlyphs" class="g">UKOil-,H1</text>
<text x="737.4" y="603" font-size="13.2" fill="#6a6a6a" textLength="68.7" lengthAdjust="spacingAndGlyphs" class="g">USOil-,Daily</text>
<text x="828.4" y="603" font-size="13.2" fill="#6a6a6a" textLength="54.7" lengthAdjust="spacingAndGlyphs" class="g">HK50-,H1</text>
<text x="903.9" y="603" font-size="13.2" fill="#6a6a6a" textLength="71.2" lengthAdjust="spacingAndGlyphs" class="g">EURCHF-,H1</text>
<text x="997.9" y="603" font-size="13.2" fill="#6a6a6a" textLength="57.2" lengthAdjust="spacingAndGlyphs" class="g">USOil-,H4</text>
<text x="1076.9" y="603" font-size="13.2" fill="#000" textLength="57.7" lengthAdjust="spacingAndGlyphs" class="g">UKOil-,H4</text>
<rect x="114" y="591" width="1" height="14" fill="#6a6a6a" />
<rect x="222" y="591" width="1" height="14" fill="#6a6a6a" />
<rect x="330" y="591" width="1" height="14" fill="#6a6a6a" />
<rect x="438" y="591" width="1" height="14" fill="#6a6a6a" />
<rect x="550" y="591" width="1" height="14" fill="#6a6a6a" />
<rect x="646" y="591" width="1" height="14" fill="#6a6a6a" />
<rect x="726" y="591" width="1" height="14" fill="#6a6a6a" />
<rect x="818" y="591" width="1" height="14" fill="#6a6a6a" />
<rect x="894" y="591" width="1" height="14" fill="#6a6a6a" />
<rect x="986" y="591" width="1" height="14" fill="#6a6a6a" />
<path d="M1182.3 597 L1186.5 593.3 L1186.5 600.7 Z" fill="#000"/>
<path d="M1205.7 597 L1201.8 593.3 L1201.8 600.7 Z" fill="#a0a0a0"/>
</svg></body></html>
